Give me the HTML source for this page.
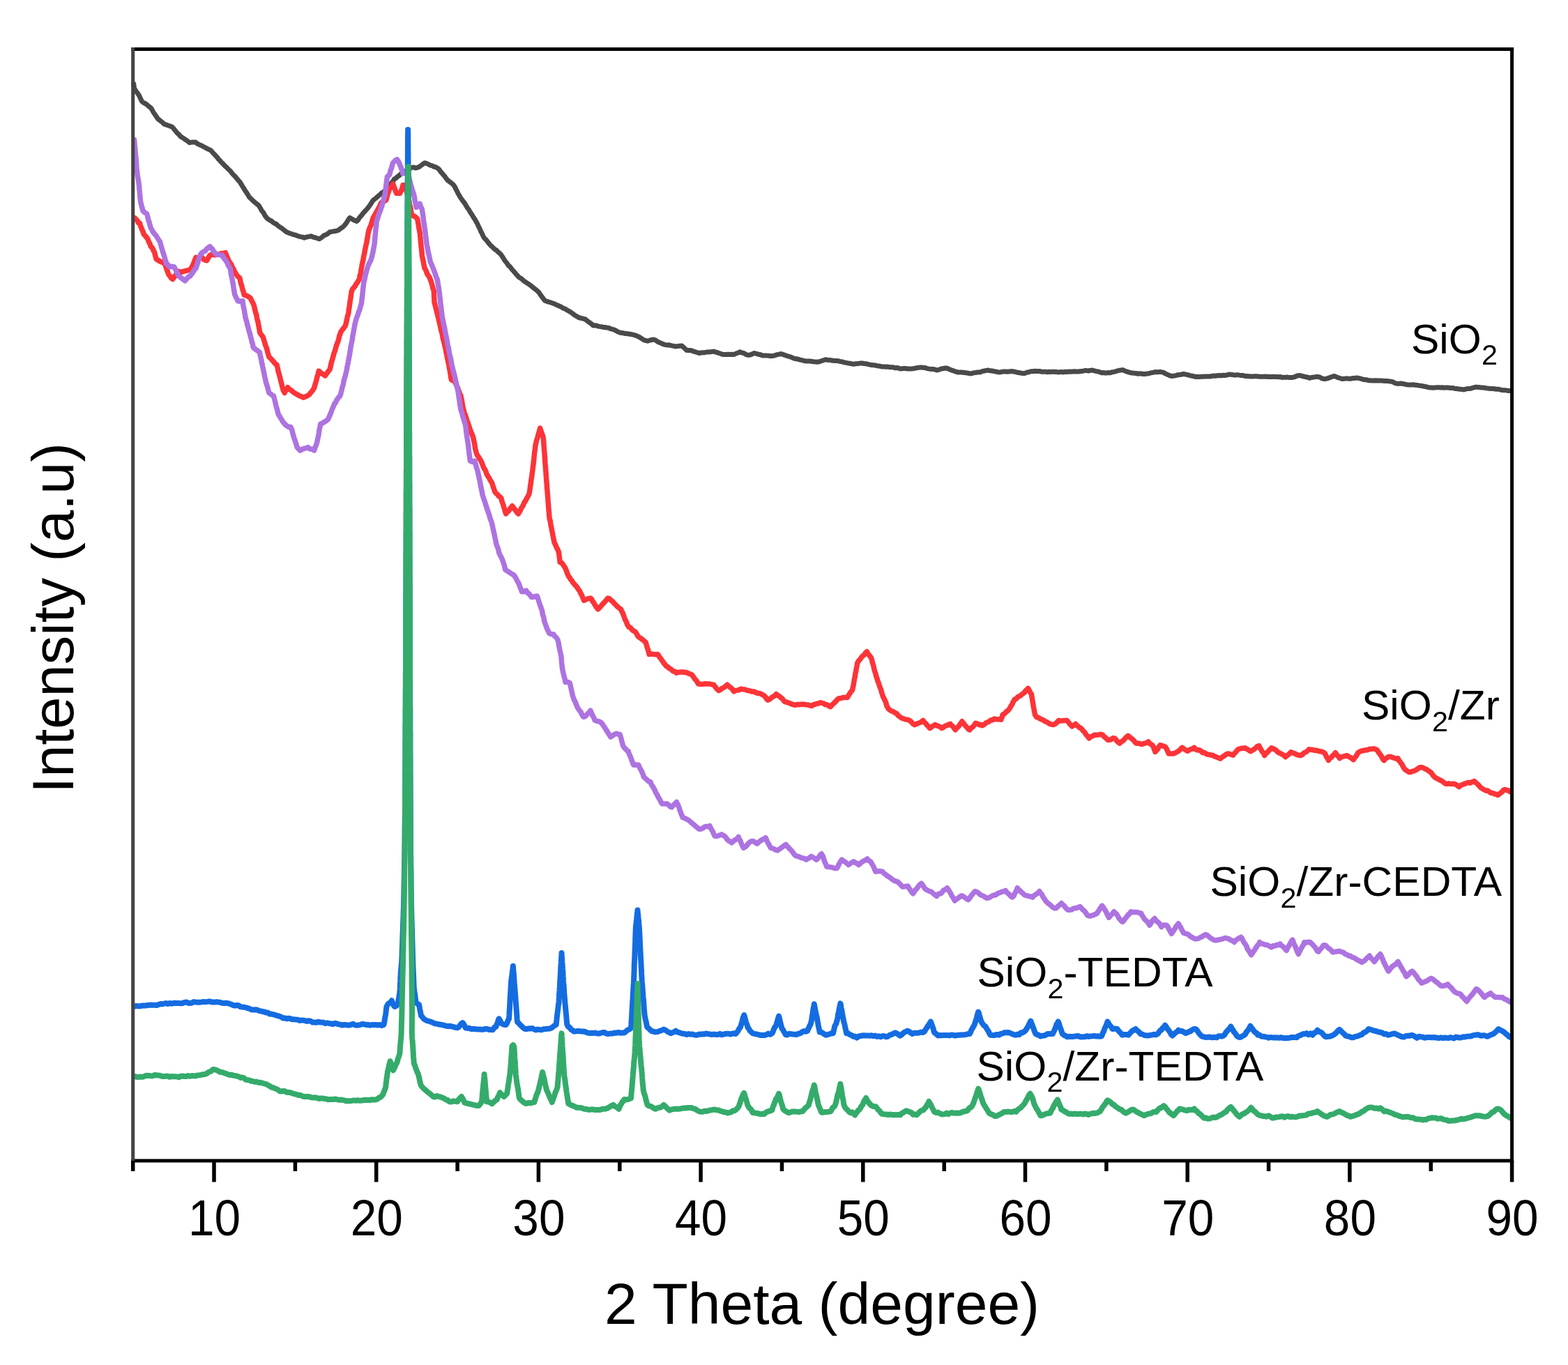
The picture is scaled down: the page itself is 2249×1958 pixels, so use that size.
<!DOCTYPE html>
<html><head><meta charset="utf-8"><title>XRD patterns</title>
<style>
html,body{margin:0;padding:0;background:#fff;}
svg{display:block;}
#fig{width:2249px;height:1958px;overflow:hidden;}
text{font-family:"Liberation Sans",Arial,sans-serif;fill:#000;}
</style></head><body>
<div id="fig"><svg width="2249" height="1958" viewBox="0 0 2249 1958">
<rect x="0" y="0" width="2249" height="1958" fill="#fff"/>
<g fill="none" stroke-linejoin="round" stroke-linecap="round">
<polyline stroke="#4a4a4a" stroke-width="7.0" points="191.7,120.2 192.1,123.2 192.5,126.9 194.0,128.9 195.4,131.3 196.9,133.1 198.4,135.2 199.7,137.4 200.9,140.1 202.2,142.8 203.4,145.3 205.5,147.1 207.6,148.1 209.7,149.3 211.8,151.2 214.3,153.2 216.8,155.3 218.2,157.6 219.6,160.2 221.0,162.5 222.4,164.4 223.8,166.5 225.2,168.7 227.2,171.2 229.2,172.6 231.2,174.2 233.2,175.7 235.2,177.9 238.1,178.8 241.1,180.0 244.0,180.9 246.9,182.1 248.6,183.9 250.3,186.0 252.0,188.0 253.6,190.1 255.3,191.9 257.0,193.3 258.7,195.5 260.9,197.0 263.1,198.2 265.4,199.9 267.6,201.2 269.8,202.9 272.0,204.7 274.8,204.1 277.6,204.1 280.4,203.9 282.7,206.0 285.1,207.0 287.4,208.3 289.8,209.1 292.1,210.6 294.6,211.7 297.1,213.2 299.7,214.4 302.2,215.6 304.1,217.7 305.9,219.8 307.8,221.5 309.6,223.8 311.5,225.6 313.3,228.2 315.2,230.0 317.0,232.2 318.9,234.0 320.9,236.1 322.8,238.2 324.8,239.8 326.8,242.0 328.7,243.8 330.7,245.7 332.4,247.9 334.0,249.8 335.7,251.6 337.4,253.2 339.0,255.3 340.7,257.2 342.3,259.4 344.0,260.8 345.3,263.1 346.7,265.4 348.0,267.6 349.4,269.7 350.7,271.8 352.0,274.0 353.4,276.0 354.7,277.9 356.1,280.2 357.4,282.6 359.3,284.3 361.2,286.3 363.1,288.1 365.1,289.8 367.0,291.4 368.9,293.0 370.8,294.3 372.3,296.8 373.8,299.2 375.2,301.8 376.7,303.7 378.2,305.7 379.7,308.6 381.1,310.7 382.6,312.7 384.8,314.5 387.0,315.9 389.2,316.8 391.5,318.9 393.7,320.4 395.9,321.1 398.1,323.2 400.2,324.8 402.4,326.3 404.5,327.7 406.7,329.4 408.8,331.2 411.0,332.8 413.5,333.9 416.0,334.8 418.5,335.5 421.0,336.6 423.6,337.0 426.1,338.1 428.6,339.1 431.1,339.6 433.6,340.0 436.1,341.2 438.6,340.2 441.1,339.8 443.7,339.4 446.2,338.7 449.1,340.1 452.0,340.7 455.0,341.8 457.9,342.8 460.1,341.5 462.2,340.0 464.4,337.9 466.5,337.0 468.7,336.2 470.8,334.7 473.0,332.8 475.5,332.4 478.0,331.9 480.5,331.5 483.0,331.1 485.1,330.3 487.2,328.8 489.2,327.2 491.3,326.0 493.4,324.1 495.1,322.0 496.7,320.0 498.4,317.2 500.0,314.7 501.7,312.4 504.2,313.8 506.8,315.3 509.3,316.5 511.8,317.4 513.5,315.6 515.1,312.9 516.8,310.8 518.5,309.0 520.2,306.7 521.8,304.8 523.5,303.1 525.2,301.1 526.8,299.4 528.5,297.3 530.2,294.9 531.9,292.3 533.5,289.8 535.2,287.3 537.2,285.7 539.2,284.2 541.3,282.3 543.3,280.5 545.3,278.9 547.3,276.9 549.3,275.8 551.3,274.3 553.3,272.4 555.3,270.5 557.0,268.2 558.7,265.7 560.3,263.7 562.0,261.6 563.7,259.9 565.4,257.1 567.6,255.8 569.9,253.7 572.1,252.1 574.6,249.8 577.1,248.8 579.6,247.1 582.1,245.4 584.9,243.4 587.7,241.9 590.5,240.4 593.3,239.9 596.0,241.0 598.8,240.4 601.3,239.3 603.8,237.5 606.4,235.6 608.9,233.7 611.7,234.4 614.5,235.7 617.3,237.1 619.6,237.6 622.0,239.0 624.3,239.5 626.7,240.6 629.0,242.1 630.7,244.2 632.4,246.7 634.0,248.3 635.7,250.5 637.4,252.2 639.0,254.7 640.7,256.9 642.4,258.8 644.5,260.3 646.5,261.9 648.6,263.5 650.7,265.5 652.0,267.4 653.2,269.7 654.5,272.5 655.8,274.9 657.0,277.6 658.3,279.6 659.5,281.7 660.8,283.9 662.3,285.8 663.7,288.0 665.2,289.8 666.6,291.7 668.1,294.3 669.6,296.8 671.0,299.0 672.5,300.7 673.9,303.6 675.4,305.8 676.8,307.8 678.3,310.3 679.7,312.5 681.2,314.7 682.6,317.4 683.8,319.2 684.9,321.4 686.1,324.1 687.3,326.7 688.5,329.0 689.6,331.8 690.8,334.0 692.0,336.4 693.1,339.0 694.3,340.9 696.0,342.9 697.6,344.4 699.3,346.8 700.9,348.7 702.6,350.9 704.5,352.8 706.4,354.4 708.3,356.3 710.2,358.0 712.0,358.9 713.9,361.0 715.8,362.5 717.7,364.3 719.2,366.1 720.6,368.2 722.1,370.6 723.5,372.9 725.0,375.1 726.5,376.6 727.9,378.7 729.4,381.0 731.1,382.1 732.8,384.3 734.4,386.6 736.1,388.3 737.8,390.3 739.5,392.2 741.1,394.3 742.8,395.9 744.5,397.8 746.6,399.0 748.7,400.4 750.8,402.5 752.9,404.1 754.9,405.3 757.0,406.7 759.1,408.1 761.2,409.5 763.2,411.3 765.1,412.8 767.1,414.4 769.1,415.8 771.0,417.5 773.0,419.5 774.7,422.1 776.4,424.4 778.0,426.7 779.7,428.9 781.4,431.2 784.1,432.1 786.8,433.1 789.4,433.7 792.1,434.7 794.8,435.6 797.0,436.8 799.3,437.7 801.5,438.7 803.8,439.7 806.0,440.8 808.2,442.3 810.5,442.9 812.7,444.6 814.9,445.6 817.2,447.0 819.4,448.4 821.6,450.0 823.8,451.8 826.0,453.1 828.3,454.3 830.5,455.7 833.5,456.3 836.5,457.1 839.5,457.9 841.7,459.9 843.9,461.5 846.2,463.0 848.4,464.6 850.6,466.9 853.1,466.8 855.6,467.0 858.0,468.0 860.5,468.4 863.0,468.7 865.5,469.5 867.9,469.5 870.4,470.0 872.9,470.2 875.5,471.6 878.1,472.2 880.8,473.0 883.4,474.2 886.0,475.8 888.6,476.9 891.1,477.6 893.6,477.6 896.1,478.4 898.7,478.6 901.2,478.9 903.7,479.3 906.2,479.7 908.7,480.3 911.2,480.9 913.7,482.0 916.2,483.1 918.8,484.6 921.3,486.3 923.8,487.9 926.3,488.5 928.8,489.2 931.8,488.2 934.7,487.5 937.7,487.0 940.4,488.0 943.1,490.0 945.7,491.3 948.4,492.3 951.1,493.7 953.6,494.4 956.2,494.9 958.7,494.8 961.3,495.3 963.8,495.9 966.4,496.4 968.9,497.0 971.9,496.6 974.9,496.2 977.9,495.9 980.3,498.1 982.6,500.2 985.0,502.6 988.4,502.4 991.7,502.7 994.6,503.9 997.5,504.8 1000.4,505.8 1003.3,506.5 1005.8,505.9 1008.4,505.7 1011.0,505.7 1013.5,505.0 1016.0,505.1 1018.6,504.7 1021.2,504.5 1023.7,504.1 1026.1,504.8 1028.6,505.6 1031.0,506.6 1033.4,507.1 1035.9,508.2 1038.3,508.5 1041.2,508.5 1044.1,508.3 1047.1,508.6 1050.0,508.3 1052.9,508.5 1055.8,507.0 1058.7,506.1 1061.6,504.7 1063.9,506.0 1066.3,506.3 1068.6,507.5 1071.0,508.9 1073.3,509.4 1076.2,509.0 1079.1,507.7 1082.0,506.5 1084.9,507.3 1087.8,508.2 1090.8,508.8 1093.7,510.0 1096.6,509.9 1099.5,510.1 1102.5,510.2 1105.4,510.7 1108.3,510.6 1111.2,509.9 1114.1,508.8 1117.0,508.4 1119.9,507.6 1122.4,508.2 1124.9,509.1 1127.4,510.0 1129.9,510.8 1132.4,511.5 1134.9,512.4 1137.4,513.5 1140.0,514.5 1142.5,514.7 1145.0,515.2 1147.6,516.1 1150.2,516.7 1152.7,517.3 1155.2,517.9 1157.8,518.1 1160.7,518.0 1163.6,518.2 1166.6,518.7 1169.5,519.1 1172.4,519.3 1175.3,518.8 1178.2,517.8 1181.2,516.8 1184.1,515.8 1186.7,516.2 1189.3,516.4 1191.9,516.8 1194.5,517.3 1197.0,517.4 1199.6,517.5 1202.2,517.7 1204.8,518.5 1207.4,518.7 1209.9,519.6 1212.4,520.1 1214.9,520.6 1217.4,521.1 1219.9,521.4 1222.4,522.0 1224.9,522.2 1227.8,521.8 1230.8,521.5 1233.7,521.1 1236.6,521.0 1239.2,521.5 1241.9,521.8 1244.5,522.3 1247.2,522.9 1249.8,523.6 1252.5,523.7 1255.1,523.9 1257.8,524.7 1260.4,524.9 1263.1,525.5 1265.7,526.0 1268.2,526.0 1270.8,526.3 1273.3,526.1 1275.9,526.7 1278.5,526.8 1281.0,526.8 1283.5,527.7 1286.1,527.5 1288.6,528.0 1291.2,528.9 1293.8,528.7 1296.3,528.4 1298.8,528.5 1301.4,529.0 1304.0,529.0 1306.5,528.9 1309.4,528.7 1312.3,528.3 1315.3,527.6 1318.2,527.3 1321.1,526.9 1323.7,527.2 1326.3,527.4 1328.9,528.3 1331.5,528.9 1334.0,529.3 1336.6,529.5 1339.2,529.5 1341.8,530.4 1344.4,531.0 1347.3,530.1 1350.2,529.0 1353.2,528.5 1356.1,528.0 1358.6,528.3 1361.1,529.4 1363.6,530.4 1366.1,531.4 1368.6,532.3 1371.1,533.1 1373.6,533.9 1376.1,533.9 1378.7,534.1 1381.2,534.3 1383.8,534.6 1386.3,534.9 1388.9,535.3 1391.5,535.9 1394.0,535.6 1396.6,534.7 1399.2,534.5 1401.8,534.0 1404.4,534.1 1406.9,533.5 1409.5,532.4 1412.1,532.0 1414.7,531.4 1417.3,531.0 1420.2,531.8 1423.1,532.0 1426.1,532.6 1429.0,533.2 1431.9,533.9 1434.5,533.7 1437.0,533.4 1439.5,532.9 1442.1,533.1 1444.7,533.3 1447.2,533.1 1449.8,532.6 1452.3,532.7 1455.2,533.2 1458.1,534.0 1461.1,534.5 1464.0,535.0 1466.9,535.6 1469.8,535.4 1472.7,534.3 1475.7,533.7 1478.6,532.7 1481.5,532.7 1484.1,532.3 1486.7,532.4 1489.3,532.5 1491.9,532.6 1494.4,533.3 1497.0,533.2 1499.6,533.2 1502.2,533.8 1504.8,533.3 1507.3,533.6 1509.9,533.1 1512.5,533.5 1515.0,533.3 1517.5,534.0 1520.1,533.6 1522.7,533.6 1525.2,533.9 1527.8,533.2 1530.4,533.4 1533.0,533.1 1535.6,533.2 1538.1,533.0 1540.7,532.8 1543.3,533.1 1545.9,533.1 1548.5,532.7 1551.0,532.6 1553.5,532.1 1556.0,531.6 1558.5,531.6 1561.0,532.0 1563.5,531.4 1566.0,531.0 1568.8,531.6 1571.6,532.3 1574.4,532.9 1577.2,533.6 1580.0,534.8 1582.5,534.5 1585.0,535.0 1587.5,534.9 1590.0,534.6 1592.5,534.7 1595.0,533.7 1597.5,533.4 1600.0,532.9 1602.5,532.0 1605.0,531.3 1607.5,531.0 1610.0,530.6 1612.9,531.8 1615.8,532.9 1618.7,533.8 1621.6,534.7 1624.2,534.9 1626.7,535.2 1629.3,535.4 1631.8,536.2 1634.4,535.8 1637.0,536.0 1639.5,536.5 1642.1,536.5 1645.0,536.0 1647.9,535.7 1650.8,534.9 1653.7,534.3 1656.6,533.6 1659.5,533.7 1662.4,533.5 1665.4,533.6 1668.3,534.1 1670.6,535.5 1673.0,536.6 1675.3,537.6 1677.7,538.7 1680.0,539.4 1682.5,539.3 1685.0,539.0 1687.5,538.3 1689.9,537.8 1692.4,537.6 1694.9,537.0 1697.4,536.5 1699.9,536.8 1702.4,537.5 1704.9,538.0 1707.5,538.9 1710.0,539.3 1712.5,539.7 1715.0,540.6 1717.6,540.2 1720.2,540.6 1722.8,540.3 1725.4,540.2 1727.9,540.0 1730.5,539.9 1733.1,539.9 1735.7,540.0 1738.3,539.4 1740.9,539.0 1743.5,539.2 1746.2,538.8 1748.8,538.5 1751.4,538.8 1754.0,538.3 1756.6,538.4 1759.3,538.1 1761.9,537.3 1764.5,537.1 1767.2,537.5 1769.8,537.9 1772.5,538.0 1775.1,537.6 1777.8,538.1 1780.4,538.5 1783.1,538.6 1785.7,539.5 1788.4,539.5 1791.0,539.7 1793.7,540.0 1796.4,539.9 1799.1,539.8 1801.8,539.8 1804.4,540.0 1807.1,540.2 1809.8,540.2 1812.5,540.2 1815.2,540.0 1817.9,540.4 1820.5,540.2 1823.2,540.5 1825.9,540.3 1828.6,540.6 1831.2,540.4 1833.8,540.7 1836.4,540.5 1839.0,541.4 1841.6,541.3 1844.2,541.2 1846.8,541.1 1849.4,541.6 1852.0,541.4 1854.9,541.2 1857.8,540.3 1860.7,539.0 1863.6,538.5 1866.0,538.9 1868.5,539.8 1870.9,540.3 1873.3,540.7 1875.8,541.2 1878.2,542.3 1881.1,541.4 1884.1,541.1 1887.0,540.6 1889.9,540.4 1892.8,541.0 1895.7,542.6 1898.6,543.5 1901.5,543.5 1904.4,542.6 1907.3,541.6 1910.3,540.5 1913.2,539.4 1916.1,540.4 1919.1,541.7 1922.0,542.5 1924.9,543.5 1927.5,543.3 1930.1,543.1 1932.7,543.0 1935.3,543.2 1937.8,543.2 1940.4,542.5 1943.0,542.4 1945.6,542.1 1948.2,542.3 1950.6,542.9 1953.1,543.6 1955.5,544.3 1957.9,544.8 1960.4,544.8 1962.8,545.8 1965.4,545.8 1968.0,545.9 1970.7,546.1 1973.3,545.8 1975.9,546.0 1978.5,545.9 1981.1,545.9 1983.8,546.2 1986.4,546.4 1989.0,546.4 1991.4,546.8 1993.9,547.1 1996.3,547.4 1998.7,548.3 2001.2,549.6 2003.6,550.2 2006.2,550.4 2008.8,550.0 2011.5,550.3 2014.1,550.9 2016.7,551.5 2019.3,551.9 2021.9,551.9 2024.6,552.0 2027.2,551.8 2029.8,552.2 2032.4,552.4 2035.0,552.9 2037.6,553.2 2040.2,553.8 2042.7,554.2 2045.3,554.7 2047.9,555.5 2050.5,555.9 2053.1,556.0 2055.7,556.3 2058.3,556.1 2060.9,555.7 2063.5,555.8 2066.1,556.0 2068.7,555.8 2071.3,556.2 2073.9,556.0 2076.5,556.0 2079.1,556.4 2081.7,556.6 2084.3,556.6 2086.9,557.6 2089.4,557.5 2092.0,558.1 2094.6,558.2 2097.2,558.6 2099.8,558.9 2102.3,558.2 2104.8,557.6 2107.3,557.4 2109.8,557.3 2112.3,556.3 2114.8,555.7 2117.3,555.1 2119.9,555.6 2122.5,555.6 2125.1,556.1 2127.7,556.1 2130.2,556.5 2132.8,556.9 2135.4,557.3 2138.0,557.5 2140.6,557.5 2143.4,557.7 2146.1,558.2 2148.9,558.2 2151.6,558.9 2154.4,559.5 2157.1,559.8 2159.9,559.8 2162.6,560.4 2165.4,560.4"/>
<polyline stroke="#fc3438" stroke-width="7.5" points="193.4,312.7 195.2,314.8 197.0,316.5 198.8,320.2 200.6,320.2 201.5,324.0 202.5,326.1 203.4,328.6 204.3,330.6 205.3,332.8 206.2,335.8 208.1,338.1 209.9,340.1 211.8,342.5 212.9,345.6 214.1,348.2 215.2,350.0 216.3,353.7 217.8,354.8 219.2,357.1 220.7,360.4 221.5,361.6 222.4,365.1 223.2,368.2 224.1,371.5 226.8,373.4 229.6,374.9 232.9,376.2 236.3,378.2 237.2,380.5 238.2,383.6 239.1,386.5 240.0,388.3 241.0,391.8 241.9,393.8 243.8,396.0 245.6,398.9 247.5,400.5 249.3,398.4 251.1,395.9 252.8,393.1 254.6,391.2 256.4,389.4 259.8,390.4 263.1,389.4 265.9,388.5 268.7,388.0 271.5,387.2 274.3,384.9 275.4,382.7 276.5,380.5 277.6,378.2 278.8,374.9 279.9,371.8 281.0,369.3 284.0,369.8 286.9,369.8 289.9,369.3 292.1,372.1 294.4,373.2 296.6,373.8 298.1,371.0 299.6,368.5 301.1,366.0 303.8,365.1 306.5,365.6 309.1,365.7 311.8,365.0 314.5,364.8 317.5,363.6 320.4,363.6 323.4,362.6 324.5,365.3 325.6,368.8 326.8,370.8 327.9,373.8 329.2,375.8 330.6,377.8 331.9,379.7 333.3,383.7 334.6,384.9 336.1,389.3 337.5,391.2 339.0,393.8 341.2,396.7 343.5,398.3 344.2,400.1 344.8,403.6 345.5,406.4 346.2,408.3 346.9,410.5 347.5,413.1 348.2,415.8 348.9,417.9 349.5,420.0 350.2,422.9 353.2,424.0 356.1,425.4 359.1,427.3 360.2,429.8 361.4,432.0 362.5,434.3 363.6,436.3 364.2,438.0 364.8,440.6 365.4,443.1 366.0,445.5 366.6,448.1 367.3,450.6 367.9,452.3 368.5,455.7 369.1,458.6 369.7,460.6 370.3,463.0 370.7,466.0 371.2,468.0 371.6,470.2 372.1,473.2 372.5,476.4 374.0,479.2 375.5,481.1 377.0,483.1 377.7,484.8 378.5,487.7 379.2,490.0 380.0,492.2 380.7,495.1 381.4,496.7 382.2,498.6 382.9,501.0 383.7,504.7 384.4,507.3 385.2,509.4 385.9,512.1 388.1,513.9 390.4,516.6 392.6,519.0 394.9,521.8 397.1,523.3 397.7,525.9 398.4,528.6 399.0,532.3 399.6,534.5 400.3,536.4 400.9,539.0 401.6,541.4 402.2,544.2 402.8,546.7 403.5,548.8 404.1,551.3 404.7,554.1 405.4,556.2 406.0,559.0 407.1,561.2 408.2,563.5 409.7,560.4 411.2,558.7 412.7,555.7 414.9,558.6 417.2,559.5 419.4,561.3 421.6,563.3 423.9,564.6 426.1,565.7 429.1,567.5 432.0,568.7 435.0,570.2 438.0,568.9 440.9,567.8 443.9,565.7 445.6,563.2 447.2,561.7 448.9,559.1 450.6,556.8 451.3,553.8 451.9,551.6 452.6,549.7 453.3,547.1 454.0,544.7 454.6,542.0 455.3,539.3 456.0,537.5 456.6,534.4 457.3,532.2 459.6,534.3 461.8,536.0 464.1,537.3 466.3,538.9 468.0,536.6 469.6,534.3 471.3,532.2 473.0,530.0 473.7,527.5 474.3,525.0 475.0,521.6 475.6,518.6 476.3,517.1 477.0,514.6 477.6,512.2 478.3,510.0 478.9,507.1 479.6,505.4 480.4,503.5 481.1,500.8 481.9,498.2 482.6,495.2 483.4,493.6 484.1,491.4 484.9,489.6 485.6,487.1 486.4,483.8 487.1,480.7 487.9,479.3 488.6,476.4 490.3,474.1 492.0,471.9 493.6,469.6 495.3,467.5 495.9,465.2 496.6,462.8 497.2,459.5 497.8,456.8 498.4,453.6 499.1,451.9 499.7,449.6 500.1,446.8 500.4,443.5 500.8,441.9 501.2,439.3 501.6,436.2 501.9,433.6 502.3,430.9 502.7,428.6 503.1,426.3 503.4,423.4 503.8,421.1 504.2,418.4 505.5,414.9 506.9,413.2 508.2,411.7 509.6,410.0 510.9,407.2 512.4,405.7 513.9,402.6 515.4,400.5 515.9,396.9 516.4,394.5 517.0,393.4 517.5,390.4 518.0,387.0 518.5,384.4 519.0,381.0 519.5,378.9 520.0,376.3 520.6,374.2 521.1,371.7 521.6,367.8 522.1,365.8 522.6,363.9 523.1,361.0 523.7,357.9 524.2,355.1 524.7,352.4 525.2,350.9 525.7,348.9 526.1,346.7 526.6,343.3 527.1,341.2 527.6,337.7 528.0,334.8 528.5,332.5 529.3,329.5 530.2,327.1 531.0,325.2 531.9,323.6 532.7,320.9 533.5,317.9 534.4,315.2 535.2,312.4 536.5,310.1 537.9,308.0 539.2,305.1 540.6,303.0 541.9,300.7 543.1,298.4 544.4,296.3 545.6,293.0 546.9,290.6 550.2,289.1 553.6,287.3 554.3,285.2 555.1,282.2 555.8,279.0 556.5,276.9 557.2,275.4 558.0,272.8 558.7,270.5 560.4,269.4 562.0,266.9 563.7,263.8 564.7,266.6 565.7,269.2 566.7,272.1 567.7,274.9 568.7,277.2 571.2,277.3 573.7,277.2 574.8,274.6 575.8,273.0 576.9,269.8 577.9,265.5 581.0,266.0 581.7,269.5 582.4,271.6 583.1,273.3 583.9,276.6 584.6,279.2 585.3,282.1 586.0,285.0 586.5,287.1 587.0,290.2 587.5,293.2 588.0,295.0 588.5,296.8 589.0,299.8 589.5,303.1 590.0,305.5 590.5,307.4 592.6,309.6 594.6,310.3 596.7,311.9 598.8,314.1 599.2,316.7 599.6,319.4 600.1,321.8 600.5,324.5 600.9,327.3 601.4,329.6 601.8,331.5 602.2,334.2 602.5,336.0 602.7,339.1 603.0,341.7 603.2,344.3 603.5,347.5 603.7,349.5 604.0,352.0 604.2,355.0 604.5,357.0 604.7,358.7 605.0,361.6 605.2,365.0 605.5,367.6 606.1,370.1 606.6,372.9 607.2,374.9 607.8,378.9 608.3,380.8 608.9,384.4 610.1,386.1 611.3,388.7 612.5,392.3 613.7,394.4 614.9,396.2 616.1,397.9 617.3,401.1 618.0,403.0 618.7,405.0 619.4,407.6 620.2,410.4 620.9,413.6 621.6,415.2 622.3,417.9 622.4,421.0 622.5,422.4 622.6,426.3 622.8,428.2 622.9,430.6 623.0,433.4 623.6,435.5 624.2,438.2 624.8,440.7 625.4,443.0 626.0,445.2 626.6,447.5 627.2,450.3 627.8,452.5 628.4,454.8 629.0,456.8 629.6,460.2 630.2,462.3 630.8,465.3 631.4,467.3 632.0,470.6 632.6,473.0 633.2,475.5 633.8,477.1 634.4,480.3 635.0,483.6 635.6,486.8 636.2,488.3 636.8,490.7 637.4,493.5 638.0,496.1 638.6,498.1 639.1,500.6 639.6,503.3 640.1,506.4 640.7,509.0 641.2,511.2 641.7,514.2 642.2,515.7 642.7,518.8 643.2,521.0 643.8,523.6 644.3,526.7 644.8,530.0 645.3,531.6 645.7,535.0 646.2,537.4 646.6,540.7 647.1,543.3 647.5,545.0 649.8,545.5 652.0,547.2 653.1,549.1 654.2,551.6 655.3,554.1 656.5,556.2 657.6,559.6 658.7,562.3 659.8,565.7 660.9,567.3 661.4,570.1 661.9,572.5 662.4,574.5 662.9,577.6 663.4,580.6 663.9,583.5 664.4,585.8 664.9,587.4 665.4,589.6 666.2,592.9 667.1,594.6 667.9,596.8 668.8,599.4 669.6,603.1 670.4,604.8 671.3,606.8 672.1,609.7 673.1,612.2 674.0,615.4 675.0,618.0 675.9,620.5 676.9,622.4 677.8,624.8 678.8,627.6 679.3,630.6 679.8,632.9 680.3,634.9 680.8,637.3 681.2,640.6 681.7,643.7 682.2,645.8 682.7,647.5 683.2,649.9 684.5,653.0 685.9,654.5 687.2,656.8 688.6,659.2 689.9,661.1 691.0,663.8 692.1,666.2 693.2,669.5 694.3,671.8 695.5,673.3 696.6,675.7 697.7,679.2 698.8,681.2 700.1,683.6 701.5,685.3 702.8,688.2 704.2,690.5 705.5,692.3 706.4,695.2 707.3,698.1 708.2,700.4 709.1,703.2 710.0,705.7 711.8,707.9 713.6,709.2 715.3,711.7 717.1,712.7 718.9,714.6 719.6,718.1 720.4,720.1 721.1,722.6 721.9,724.2 722.6,727.3 723.4,729.3 724.1,732.2 724.9,734.6 725.6,737.0 727.4,734.5 729.2,733.3 731.0,730.8 732.8,728.1 734.6,725.8 736.4,727.9 738.2,730.4 739.9,732.6 741.7,735.3 743.5,737.0 744.7,734.8 746.0,732.7 747.2,730.2 748.4,727.7 749.7,726.1 750.9,723.4 752.1,720.5 753.4,719.1 754.6,716.9 755.7,714.4 756.9,712.6 758.0,710.5 759.1,707.9 759.5,705.8 759.9,703.0 760.2,701.1 760.6,697.5 761.0,695.5 761.4,692.6 761.7,690.0 762.1,687.1 762.5,685.0 762.9,682.4 763.2,679.4 763.6,676.7 763.9,674.3 764.2,672.0 764.5,669.3 764.8,667.9 765.1,665.1 765.4,661.9 765.7,659.7 765.9,657.0 766.2,654.0 766.5,651.3 766.8,648.1 767.1,646.4 767.4,644.7 767.7,641.7 768.0,638.8 768.7,636.2 769.3,633.0 770.0,630.4 770.7,628.5 771.4,626.0 772.0,623.8 772.7,621.1 773.4,618.8 774.0,616.5 774.7,614.2 775.6,616.9 776.5,619.7 777.4,622.4 778.3,624.7 779.2,627.6 779.4,629.9 779.6,632.0 779.8,634.6 780.0,637.4 780.1,640.3 780.3,642.1 780.5,644.5 780.7,647.1 780.9,649.4 781.1,652.2 781.3,654.9 781.5,657.3 781.6,660.9 781.8,662.9 782.0,665.5 782.2,667.1 782.4,670.4 782.6,673.1 782.8,675.6 783.0,677.0 783.1,679.9 783.3,682.4 783.5,685.4 783.7,687.9 783.9,690.5 784.1,692.8 784.3,695.2 784.5,698.5 784.7,701.4 784.9,702.7 785.1,705.3 785.3,708.4 785.5,710.6 785.7,713.4 785.9,715.8 786.1,719.2 786.3,721.7 786.5,723.8 786.7,726.9 786.9,729.3 787.1,732.3 787.3,734.0 787.5,735.6 787.7,738.8 787.9,741.3 788.1,743.7 788.6,745.6 789.2,746.8 789.7,750.6 790.2,753.8 790.8,756.3 791.3,759.0 791.8,762.0 792.3,764.1 792.9,767.7 793.4,769.6 793.9,772.5 794.5,775.3 795.0,778.0 796.1,780.2 797.2,782.4 798.3,785.5 799.4,787.0 800.5,789.8 801.6,792.5 801.9,796.0 802.2,798.1 802.5,800.2 802.8,803.2 803.1,806.6 805.2,807.0 807.3,809.5 809.4,812.8 810.4,814.0 811.5,816.5 812.5,819.0 813.5,822.1 814.6,824.5 815.6,826.9 817.2,828.5 818.7,831.5 820.3,832.9 821.9,835.9 823.4,837.4 825.0,839.4 826.6,841.0 828.1,842.9 829.7,845.8 831.3,847.2 832.3,849.9 833.4,852.1 834.4,853.5 835.4,856.3 836.5,858.6 837.5,861.3 840.6,859.9 843.8,858.6 846.9,858.1 848.5,859.3 850.0,862.7 851.6,864.4 853.1,867.2 854.7,869.7 856.2,871.8 857.8,873.8 859.6,872.1 861.3,870.3 863.1,868.0 864.8,866.0 866.6,864.2 868.4,862.2 870.1,860.0 871.9,858.1 874.2,858.7 876.6,861.3 878.9,863.0 881.3,865.9 883.6,868.0 886.0,870.6 888.3,872.3 890.6,873.8 891.7,876.9 892.8,878.4 893.9,881.4 895.0,883.9 896.1,887.8 897.2,889.9 898.4,892.0 899.6,895.7 900.8,897.6 902.0,899.6 904.5,900.6 906.9,903.8 909.3,905.2 911.8,906.9 913.4,909.6 915.0,912.5 916.6,914.2 919.0,915.6 921.5,917.4 923.9,919.5 926.3,921.5 927.0,924.5 927.7,926.6 928.4,929.2 929.1,930.6 929.8,933.6 930.5,935.6 931.2,938.5 934.2,938.1 937.2,938.4 940.3,938.9 943.3,938.5 944.8,940.5 946.3,942.9 947.9,944.8 949.4,947.3 950.9,949.1 952.5,951.9 954.0,953.2 955.5,955.5 957.6,956.3 959.7,958.6 961.8,959.5 963.8,961.3 965.9,962.9 968.0,963.2 970.1,965.2 973.3,964.4 976.6,964.0 979.8,964.0 982.2,964.5 984.6,964.6 987.1,965.8 989.5,966.8 991.9,967.6 993.5,969.3 995.2,971.8 996.8,974.3 998.4,975.7 1000.1,978.3 1001.7,981.0 1004.7,981.3 1007.8,981.5 1010.8,980.7 1013.8,981.0 1017.0,980.9 1020.3,981.6 1023.5,982.2 1025.3,984.4 1027.2,986.9 1029.0,988.9 1030.8,990.7 1033.2,989.6 1035.7,987.3 1038.1,986.5 1040.6,984.3 1043.0,982.2 1044.9,983.9 1046.9,985.7 1048.8,986.9 1050.8,989.1 1052.7,991.9 1055.1,990.4 1057.6,990.1 1060.0,989.7 1062.4,988.3 1065.4,988.8 1068.5,989.1 1071.5,990.2 1074.5,990.7 1078.2,991.9 1081.8,991.9 1084.2,993.6 1086.7,994.3 1089.1,994.5 1091.6,995.4 1094.0,996.8 1095.8,997.6 1097.7,999.6 1099.5,1002.5 1101.3,1004.1 1103.7,1003.3 1106.1,1001.0 1108.6,999.5 1111.0,998.2 1113.4,995.6 1115.4,997.3 1117.5,998.5 1119.5,1000.4 1121.5,1001.5 1123.6,1004.3 1125.6,1006.5 1128.0,1007.1 1130.4,1007.9 1132.8,1008.8 1135.3,1009.9 1137.7,1010.7 1140.1,1011.4 1143.1,1010.5 1146.2,1010.8 1149.2,1010.2 1152.3,1010.2 1155.3,1010.8 1158.3,1011.0 1161.4,1011.8 1164.4,1012.6 1166.8,1010.7 1169.3,1010.2 1171.7,1009.3 1174.2,1009.0 1176.6,1007.7 1179.0,1008.5 1181.5,1009.2 1183.9,1010.8 1186.3,1010.8 1188.8,1012.6 1191.2,1013.8 1193.2,1011.6 1195.2,1009.4 1197.2,1007.6 1199.3,1005.5 1201.3,1003.1 1203.3,1001.7 1206.3,1001.4 1209.3,1000.6 1212.4,1000.5 1215.4,1000.4 1216.9,998.0 1218.3,995.5 1219.8,993.3 1221.2,991.5 1222.7,989.5 1223.2,986.6 1223.7,984.8 1224.2,982.4 1224.6,979.2 1225.1,977.0 1225.6,973.0 1226.1,971.7 1226.6,968.3 1227.1,965.2 1227.6,963.6 1228.1,960.2 1228.5,957.6 1229.0,955.5 1229.5,952.0 1230.0,950.6 1231.8,947.5 1233.7,945.8 1235.5,943.0 1237.3,940.9 1239.3,939.4 1241.4,936.6 1243.4,934.8 1244.9,937.5 1246.5,939.5 1248.0,941.5 1249.5,943.3 1250.2,945.7 1250.8,947.7 1251.5,950.9 1252.2,952.6 1252.8,955.2 1253.5,958.1 1254.1,960.7 1254.8,963.3 1255.5,965.1 1256.1,966.9 1256.8,970.1 1257.6,972.3 1258.4,974.7 1259.2,977.8 1260.0,979.0 1260.8,981.8 1261.7,984.6 1262.5,986.8 1263.3,988.5 1264.1,991.4 1264.9,994.6 1265.7,996.5 1266.5,999.2 1267.5,1001.0 1268.6,1003.2 1269.6,1005.5 1270.7,1007.5 1271.7,1012.2 1272.8,1014.1 1273.8,1016.2 1276.2,1018.4 1278.6,1020.0 1281.1,1020.7 1283.5,1022.4 1285.9,1023.5 1288.3,1026.4 1290.8,1028.3 1293.2,1030.0 1295.6,1030.8 1298.6,1031.9 1301.6,1032.3 1304.6,1033.5 1307.0,1035.4 1309.5,1038.3 1311.9,1039.6 1314.3,1038.4 1316.7,1037.5 1319.2,1036.7 1321.6,1035.5 1324.0,1033.5 1325.9,1036.1 1327.9,1037.8 1329.8,1040.4 1331.8,1042.3 1333.7,1044.5 1336.1,1043.0 1338.6,1041.1 1341.0,1039.6 1343.4,1040.5 1345.8,1041.6 1348.3,1042.6 1350.7,1044.5 1353.1,1043.4 1355.6,1041.4 1358.0,1040.7 1360.5,1039.3 1362.9,1038.4 1364.7,1040.6 1366.6,1041.9 1368.4,1044.4 1370.2,1046.9 1371.8,1044.7 1373.4,1043.5 1375.1,1041.7 1376.7,1039.4 1378.3,1037.1 1379.9,1034.8 1381.7,1037.0 1383.5,1039.4 1385.3,1041.8 1387.2,1043.6 1389.0,1045.9 1390.8,1046.9 1392.5,1044.7 1394.2,1043.4 1395.9,1042.2 1397.6,1039.8 1399.3,1037.2 1401.7,1038.1 1404.2,1039.7 1406.6,1039.3 1409.0,1040.8 1411.4,1039.5 1413.9,1037.2 1416.3,1036.0 1418.8,1034.8 1421.2,1033.0 1423.6,1032.8 1426.1,1031.1 1429.3,1031.8 1432.6,1031.8 1435.8,1032.3 1436.6,1029.8 1437.4,1028.1 1438.2,1025.0 1440.1,1024.4 1442.1,1022.3 1444.0,1020.2 1446.0,1019.1 1447.9,1016.5 1449.1,1014.8 1450.3,1012.1 1451.6,1010.8 1452.8,1007.4 1454.0,1005.5 1455.2,1003.2 1457.7,1002.2 1460.1,999.5 1462.5,998.6 1465.0,996.8 1467.4,994.7 1469.2,993.6 1471.0,991.0 1472.8,989.2 1474.6,987.4 1476.2,990.3 1477.9,993.6 1479.5,995.9 1479.9,999.1 1480.4,1001.6 1480.8,1004.7 1481.3,1007.6 1481.7,1009.2 1482.2,1013.1 1482.6,1015.3 1483.1,1017.3 1483.5,1020.8 1484.0,1021.7 1484.4,1025.0 1486.8,1028.7 1489.2,1029.1 1491.6,1030.9 1494.1,1032.0 1496.5,1032.9 1498.9,1034.8 1501.3,1035.6 1503.8,1037.2 1506.2,1038.6 1508.7,1039.2 1511.1,1039.6 1513.5,1038.2 1516.0,1036.3 1518.4,1033.5 1521.4,1034.0 1524.5,1033.8 1527.5,1033.4 1530.5,1033.5 1532.3,1035.8 1534.2,1038.3 1536.0,1040.1 1537.8,1042.0 1540.2,1040.4 1542.7,1038.4 1544.6,1040.5 1546.6,1042.1 1548.5,1043.9 1550.5,1044.6 1552.4,1046.9 1554.0,1048.9 1555.6,1050.2 1557.2,1053.0 1558.9,1055.0 1560.5,1056.8 1562.1,1059.0 1564.5,1056.8 1567.0,1056.0 1569.4,1054.2 1572.4,1054.2 1575.5,1054.0 1578.5,1053.3 1581.5,1054.2 1583.3,1056.4 1585.2,1057.8 1587.0,1059.3 1588.8,1061.5 1591.2,1061.3 1593.7,1060.8 1596.1,1058.8 1598.6,1059.0 1600.4,1060.4 1602.2,1063.3 1604.0,1064.7 1605.8,1066.3 1607.8,1064.3 1609.9,1063.1 1611.9,1061.5 1613.9,1059.0 1616.0,1056.9 1618.0,1055.4 1620.0,1056.9 1622.0,1058.7 1624.0,1060.1 1626.1,1062.0 1628.1,1064.6 1630.1,1066.3 1633.8,1066.3 1637.4,1067.6 1639.8,1066.9 1642.2,1066.2 1644.7,1065.5 1647.1,1063.9 1648.9,1066.5 1650.8,1067.6 1652.6,1068.7 1654.4,1071.2 1655.2,1073.9 1656.1,1076.2 1656.9,1078.5 1658.7,1076.4 1660.6,1074.4 1662.4,1071.0 1664.2,1068.8 1666.6,1069.5 1669.1,1070.4 1671.5,1071.2 1672.7,1073.2 1673.9,1075.5 1675.1,1078.2 1676.3,1080.9 1679.9,1081.0 1683.6,1080.9 1686.0,1079.9 1688.4,1078.4 1690.9,1077.0 1693.3,1074.5 1695.7,1072.4 1698.1,1074.4 1700.6,1075.9 1703.0,1077.3 1705.4,1076.1 1707.8,1074.6 1710.3,1074.2 1712.7,1072.4 1715.1,1074.9 1717.6,1075.9 1720.0,1075.8 1722.5,1077.2 1724.9,1079.7 1727.3,1079.4 1729.8,1081.3 1732.2,1082.3 1734.6,1082.4 1737.1,1083.3 1739.5,1083.3 1742.2,1085.0 1745.0,1086.0 1747.7,1087.1 1750.4,1088.2 1752.6,1086.4 1754.8,1084.7 1756.9,1083.5 1759.1,1081.7 1761.3,1080.9 1763.7,1081.6 1766.2,1082.4 1768.6,1083.3 1770.4,1080.7 1772.3,1079.0 1774.2,1076.6 1776.0,1074.8 1778.5,1074.0 1781.0,1073.2 1783.4,1073.4 1785.9,1072.8 1788.6,1074.6 1791.2,1076.1 1793.9,1077.8 1796.3,1076.1 1798.7,1074.9 1801.1,1072.9 1803.5,1070.5 1805.9,1069.8 1807.2,1072.6 1808.5,1074.7 1809.8,1077.3 1811.2,1079.0 1812.5,1080.6 1813.8,1083.7 1815.8,1080.6 1817.8,1079.2 1819.8,1076.9 1821.8,1074.8 1823.8,1072.8 1826.5,1074.2 1829.1,1075.3 1831.8,1077.8 1834.2,1079.8 1836.6,1080.7 1838.9,1082.0 1841.3,1083.3 1843.7,1085.7 1845.7,1083.8 1847.7,1082.8 1849.7,1080.9 1851.7,1078.8 1854.5,1080.2 1857.3,1080.9 1860.0,1082.5 1862.8,1083.2 1865.6,1083.7 1868.0,1082.4 1870.4,1079.9 1872.8,1078.9 1875.2,1077.2 1877.6,1074.8 1880.2,1075.4 1882.9,1075.6 1885.5,1076.4 1888.2,1076.3 1890.8,1077.1 1893.5,1077.8 1896.5,1078.4 1899.5,1079.8 1901.0,1081.8 1902.5,1085.5 1904.0,1087.6 1905.5,1090.7 1907.5,1087.5 1909.5,1086.6 1911.4,1084.0 1913.4,1082.5 1915.4,1079.8 1917.4,1082.7 1919.4,1084.8 1921.4,1087.7 1923.9,1085.8 1926.4,1085.2 1928.9,1084.6 1931.4,1083.7 1933.9,1084.9 1936.3,1086.4 1938.8,1087.7 1941.3,1089.7 1942.9,1087.2 1944.5,1085.3 1946.1,1083.0 1947.7,1080.0 1949.3,1078.8 1952.3,1077.2 1955.2,1076.7 1958.2,1076.0 1961.2,1075.8 1964.2,1074.4 1967.2,1074.4 1970.2,1073.9 1973.2,1074.8 1975.2,1075.8 1977.2,1079.0 1979.2,1081.8 1980.7,1083.3 1982.2,1086.4 1983.6,1089.1 1985.1,1090.7 1987.1,1088.4 1989.1,1087.2 1991.1,1085.7 1993.9,1085.3 1996.7,1086.3 1999.5,1087.3 2002.3,1088.2 2005.1,1087.7 2006.5,1091.0 2007.9,1092.1 2009.3,1094.6 2010.8,1096.1 2012.2,1099.0 2013.6,1101.7 2015.0,1103.7 2018.0,1105.7 2021.0,1107.6 2023.7,1107.4 2026.3,1106.1 2029.0,1105.7 2031.5,1104.1 2034.0,1102.5 2036.4,1100.7 2038.9,1100.7 2041.4,1101.4 2043.9,1102.9 2046.4,1103.8 2048.9,1105.7 2050.9,1106.9 2052.9,1108.5 2054.8,1111.4 2056.8,1113.8 2058.8,1115.6 2061.1,1116.7 2063.4,1117.9 2065.7,1119.1 2067.9,1120.1 2070.2,1121.9 2072.5,1123.7 2074.8,1124.6 2077.8,1123.8 2080.8,1124.6 2083.7,1124.2 2086.7,1124.6 2089.7,1126.2 2092.7,1128.6 2095.2,1126.4 2097.7,1125.4 2100.2,1124.4 2102.7,1123.6 2105.7,1122.5 2108.6,1123.2 2111.6,1121.7 2114.6,1120.6 2116.6,1122.5 2118.6,1124.1 2120.6,1126.2 2122.6,1128.3 2124.6,1130.3 2126.6,1131.6 2129.0,1133.0 2131.4,1134.2 2133.7,1134.1 2136.1,1135.8 2138.5,1137.5 2141.0,1137.5 2143.5,1138.8 2146.0,1139.3 2148.5,1140.5 2150.5,1139.0 2152.5,1137.2 2154.4,1135.9 2156.4,1133.2 2158.4,1132.5 2160.7,1133.5 2163.1,1133.8 2165.4,1135.5"/>
<polyline stroke="#ad73e1" stroke-width="7.5" points="192.5,200.5 192.7,202.5 193.0,205.1 193.2,208.2 193.4,210.5 193.7,212.7 193.9,214.9 194.1,218.4 194.4,221.0 194.6,223.4 194.8,225.7 195.1,227.4 195.3,230.9 195.5,233.4 195.8,236.4 196.0,240.0 196.2,242.1 196.5,244.6 196.7,247.4 197.1,250.5 197.5,253.0 197.9,255.8 198.4,258.0 198.8,260.6 199.2,264.2 199.4,265.4 199.7,269.0 199.9,272.2 200.2,274.2 200.4,276.6 200.7,279.0 200.9,282.9 201.2,285.3 201.4,287.2 201.7,289.3 202.4,292.5 203.1,295.5 203.7,297.2 204.4,300.2 205.1,302.5 207.9,305.1 210.7,306.8 211.4,309.6 212.1,312.3 212.8,315.2 213.5,317.3 214.2,319.4 214.9,322.4 215.6,324.7 216.3,326.9 217.8,329.5 219.3,332.6 220.8,334.4 222.2,336.2 223.7,337.6 225.2,340.3 226.7,342.5 228.1,345.0 229.6,347.0 230.3,350.0 231.1,352.7 231.8,355.4 232.6,357.9 233.3,360.3 234.1,363.1 234.8,365.1 235.6,367.3 236.3,369.7 237.1,372.7 237.8,374.6 238.6,378.2 240.8,379.7 243.0,382.7 246.3,382.3 249.7,382.7 251.0,385.3 252.4,387.6 253.7,390.5 255.1,393.4 256.4,396.1 258.6,397.5 260.9,399.4 263.1,401.0 265.4,402.8 267.2,400.4 269.0,398.8 270.7,396.8 272.5,396.2 274.3,393.8 276.0,391.8 277.6,389.2 279.3,386.4 281.0,384.9 281.8,382.0 282.7,379.9 283.5,377.4 284.4,374.2 285.2,371.5 286.0,368.9 286.9,367.0 287.7,364.8 289.9,362.4 292.2,360.8 294.4,360.0 296.6,356.9 298.9,355.2 301.1,353.7 302.9,355.8 304.7,357.3 306.4,360.5 308.2,362.5 310.0,364.8 313.0,365.4 315.9,365.9 318.9,365.9 320.3,369.2 321.7,370.8 323.1,372.8 324.5,374.7 325.9,376.8 327.3,380.6 328.7,382.6 330.1,384.9 330.5,386.6 331.0,389.9 331.4,393.4 331.9,395.0 332.3,397.6 332.8,399.4 333.2,401.3 333.7,404.4 334.1,406.8 334.6,409.2 335.0,412.3 335.5,415.3 335.9,417.7 336.4,421.0 336.8,422.9 338.3,425.9 339.8,428.7 341.3,431.8 344.6,432.2 348.0,431.8 348.5,435.9 349.0,438.9 349.5,441.3 350.0,443.5 350.4,445.1 350.9,448.8 351.4,451.1 351.9,454.9 352.4,456.3 353.1,459.5 353.7,460.7 354.4,464.1 355.0,466.5 355.7,468.7 356.4,471.3 357.0,473.8 357.7,476.5 358.3,478.0 359.0,480.9 359.6,483.9 360.3,485.7 361.0,489.2 361.6,491.4 362.3,492.9 362.9,496.7 363.6,498.8 365.8,500.5 368.1,502.2 370.3,503.7 372.5,505.4 373.0,508.9 373.5,510.9 374.1,512.8 374.6,515.1 375.1,518.0 375.6,520.8 376.2,522.8 376.7,525.8 377.2,527.8 377.7,530.5 378.3,533.2 378.8,535.7 379.3,538.2 379.8,540.7 380.4,542.8 380.9,545.5 381.4,547.9 382.1,550.7 382.9,552.6 383.6,554.8 384.4,558.0 385.1,560.8 385.9,563.5 388.1,565.0 390.4,566.9 392.6,567.9 393.2,570.8 393.8,572.7 394.4,575.5 395.0,577.5 395.6,580.9 396.3,583.5 396.9,585.5 397.5,587.3 398.1,590.1 398.7,592.3 399.3,594.7 400.8,596.6 402.3,599.3 403.8,601.5 405.2,604.2 406.7,606.1 408.2,608.1 411.2,610.7 414.1,612.5 417.1,612.6 417.9,615.0 418.6,616.4 419.4,618.9 420.1,622.6 420.9,625.2 421.6,627.5 422.4,629.9 423.1,631.5 423.9,634.3 424.6,636.2 425.4,639.1 426.1,641.6 428.3,643.7 430.5,646.1 433.3,644.6 436.1,643.5 438.9,642.9 441.7,641.6 444.7,644.1 447.6,644.3 450.6,646.1 451.5,643.7 452.4,640.7 453.3,638.8 454.2,636.3 455.1,632.7 455.6,630.3 456.0,627.9 456.5,626.1 456.9,624.1 457.4,620.8 457.8,617.6 458.2,615.5 458.7,613.7 459.2,611.4 459.6,608.1 461.8,607.4 464.0,606.0 466.3,604.7 468.5,603.1 470.7,601.4 471.7,598.7 472.7,596.7 473.7,594.3 474.7,592.1 475.6,589.3 476.6,586.5 477.6,584.4 478.6,582.2 479.6,579.1 481.1,578.1 482.6,574.6 484.1,572.2 485.6,570.0 487.1,568.9 488.6,565.7 489.2,562.5 489.9,560.8 490.5,557.8 491.1,554.9 491.8,553.1 492.4,550.9 493.1,546.5 493.7,544.0 494.3,542.1 495.0,539.7 495.6,538.0 496.2,534.9 496.9,532.3 497.5,530.0 497.9,526.3 498.4,524.7 498.8,522.4 499.3,520.3 499.7,517.3 500.2,515.8 500.6,512.6 501.0,510.9 501.5,508.9 501.9,505.3 502.4,502.7 502.8,499.8 503.2,496.5 503.7,494.8 504.1,492.4 504.6,490.6 505.0,488.6 505.5,484.7 505.9,482.2 506.3,480.1 506.8,478.0 507.2,475.3 507.7,472.3 508.1,469.8 508.6,467.7 509.0,465.0 509.8,461.9 510.6,459.0 511.4,456.3 512.2,454.0 513.0,452.5 513.8,449.6 514.5,447.5 515.3,445.5 516.1,443.2 516.9,440.3 517.7,437.4 518.5,434.6 518.8,432.0 519.1,429.1 519.4,426.1 519.7,423.8 520.0,421.6 520.3,418.4 520.6,415.3 520.9,412.8 521.2,410.2 521.5,408.0 521.8,405.0 522.4,402.7 523.1,400.0 523.7,396.6 524.3,394.1 525.0,391.6 525.6,389.0 526.3,386.9 526.9,384.4 527.9,381.9 528.8,379.2 529.8,377.2 530.7,375.3 531.7,373.8 532.6,370.7 533.6,367.6 534.1,364.9 534.7,362.5 535.2,360.3 535.8,356.7 536.4,354.1 536.9,350.9 537.2,348.4 537.4,346.2 537.7,343.0 537.9,340.3 538.2,337.7 538.4,335.2 538.7,332.1 538.9,329.8 539.2,327.0 539.4,325.7 539.7,323.5 539.9,320.1 540.2,317.4 541.0,314.7 541.9,312.4 542.7,309.6 543.5,306.9 544.4,304.9 545.2,302.9 546.1,300.3 546.9,297.3 547.8,295.5 548.6,292.2 549.5,289.1 550.3,286.0 551.1,283.1 552.0,280.6 552.3,277.3 552.7,275.6 553.0,273.2 553.3,270.1 553.6,267.3 554.0,264.1 554.3,261.9 554.6,259.1 555.0,256.3 555.3,253.8 558.7,250.5 559.4,247.9 560.1,244.8 560.8,242.6 561.6,241.3 562.3,238.2 563.0,235.5 563.7,233.7 565.6,231.6 567.6,229.6 569.5,228.7 570.9,230.6 572.3,233.2 573.7,237.1 574.8,239.0 575.8,242.4 576.9,244.4 577.9,248.8 580.4,247.9 583.0,248.5 585.5,250.5 586.2,252.4 586.8,255.0 587.5,258.2 588.1,260.6 588.8,263.8 589.5,266.4 590.2,267.8 590.9,271.5 591.7,273.0 592.4,275.4 593.1,277.4 593.8,280.6 594.4,282.8 594.9,286.6 595.5,289.5 596.1,291.7 596.6,294.7 597.2,297.3 599.7,295.7 602.2,292.3 603.3,295.8 604.4,298.1 605.5,300.7 605.8,303.5 606.2,306.0 606.5,307.5 606.9,310.1 607.2,312.9 607.5,316.5 607.9,319.0 608.2,321.2 608.6,322.7 608.9,325.8 609.2,327.8 609.6,329.8 609.9,332.8 610.2,335.3 610.5,338.4 610.9,340.9 611.2,343.4 611.5,346.0 611.9,348.9 612.2,350.9 612.7,353.5 613.2,355.7 613.7,358.4 614.2,362.4 614.8,363.9 615.3,365.8 615.8,368.5 616.3,370.2 616.8,373.4 617.3,376.0 618.3,377.7 619.3,380.2 620.3,382.6 621.3,384.7 622.3,387.7 623.3,390.3 624.3,393.0 625.3,396.2 626.3,398.9 627.3,401.1 627.7,403.7 628.1,406.6 628.5,409.2 629.0,411.6 629.4,414.1 629.8,417.1 630.2,419.0 630.5,421.7 630.8,424.9 631.1,427.4 631.4,430.1 631.7,433.0 632.0,436.6 632.3,437.9 632.6,439.7 632.9,443.2 633.2,445.5 633.5,448.2 633.8,450.1 634.1,453.5 634.6,456.2 635.1,458.9 635.6,460.6 636.2,464.0 636.7,466.4 637.2,468.7 637.7,470.5 638.2,474.5 638.7,476.4 639.3,479.5 639.8,481.6 640.3,483.8 640.8,487.0 641.3,489.7 641.8,492.5 642.3,495.2 642.9,497.3 643.4,500.1 643.9,502.8 644.4,505.9 644.9,507.9 645.4,510.5 646.0,513.2 646.5,514.4 647.0,517.5 647.5,520.4 648.1,523.5 648.7,526.1 649.3,528.5 649.9,531.1 650.5,534.0 651.1,535.2 651.7,537.6 652.2,539.9 652.8,542.1 653.4,545.7 654.0,547.8 654.6,550.6 655.2,553.5 655.8,556.5 656.4,558.4 656.8,560.6 657.2,562.7 657.6,564.9 658.0,568.4 658.4,570.8 658.9,574.1 659.3,577.3 659.7,580.6 660.1,582.2 660.5,584.8 660.9,587.4 661.6,589.9 662.4,591.3 663.1,594.7 663.9,597.9 664.6,599.4 665.4,602.4 666.1,605.0 666.9,607.4 667.6,609.7 667.9,611.8 668.3,614.1 668.6,618.2 669.0,621.0 669.3,623.1 669.7,626.0 670.0,627.6 670.4,630.6 670.7,632.8 671.1,634.1 671.4,636.9 671.8,640.4 672.1,643.2 672.4,646.0 672.7,648.7 673.0,651.1 673.4,653.7 673.7,655.3 674.0,658.1 674.3,661.1 677.6,662.4 681.0,661.1 681.7,664.4 682.5,666.4 683.2,670.0 683.9,672.0 684.7,674.2 685.4,676.7 685.9,679.4 686.4,682.0 686.9,683.9 687.5,686.7 688.0,689.2 688.5,691.1 689.0,694.3 689.5,697.1 690.0,699.5 690.6,702.0 691.1,705.3 691.6,706.3 692.1,710.2 692.9,712.3 693.7,715.0 694.6,717.4 695.4,719.7 696.2,722.1 697.0,725.1 697.8,726.9 698.6,730.4 699.5,731.8 700.3,734.7 701.1,737.0 702.0,739.6 702.9,743.1 703.7,745.8 704.6,747.2 705.5,750.4 706.0,752.9 706.6,755.1 707.1,758.1 707.7,760.7 708.2,762.9 708.8,765.2 709.3,768.2 709.9,770.9 710.4,773.5 711.0,775.6 711.5,779.0 712.3,781.5 713.1,783.9 714.0,785.8 714.8,788.3 715.6,792.5 716.6,795.0 717.7,797.1 718.8,799.0 719.8,801.2 720.9,803.7 721.9,806.6 722.7,809.0 723.5,811.8 724.2,815.0 725.0,817.5 728.1,819.3 731.3,821.4 734.4,823.5 737.5,825.3 738.8,827.6 740.0,829.5 741.3,832.1 742.5,834.5 743.8,836.3 744.7,838.6 745.6,841.5 746.6,843.7 747.5,845.6 748.4,848.8 751.5,848.7 754.7,847.2 756.7,850.6 758.6,851.5 760.5,854.2 762.5,856.6 765.1,856.2 767.7,855.4 770.3,855.0 771.2,857.2 772.1,860.3 773.0,863.2 773.9,865.6 774.8,868.7 775.7,870.5 776.6,873.8 777.3,874.9 777.9,878.8 778.6,882.4 779.3,883.9 780.0,886.3 780.6,890.5 781.3,892.5 782.3,895.4 783.4,898.4 784.4,901.3 785.4,903.4 786.5,905.3 787.5,908.1 790.6,909.6 793.8,909.7 795.3,912.3 796.9,913.5 798.5,915.2 800.0,918.0 800.6,920.4 801.2,922.5 801.8,926.9 802.4,929.6 802.9,932.5 803.5,934.8 804.1,937.6 804.7,940.0 804.9,941.6 805.2,944.3 805.4,947.5 805.6,949.5 805.8,951.9 806.1,954.3 806.3,958.0 806.9,960.4 807.4,963.5 808.0,965.7 808.6,968.5 809.2,970.7 809.8,972.5 810.3,974.9 810.9,978.4 814.0,978.2 817.2,979.5 817.8,981.8 818.4,984.3 819.0,987.4 819.5,989.3 820.1,992.2 820.7,994.6 821.3,997.7 821.9,999.5 822.9,1002.4 824.0,1005.1 825.0,1006.2 826.0,1009.3 827.1,1011.8 828.1,1014.4 829.7,1017.0 831.2,1019.3 832.8,1020.9 834.4,1024.4 835.9,1027.3 837.5,1028.4 839.4,1027.4 841.3,1025.8 843.1,1023.4 845.0,1022.2 846.9,1019.1 847.9,1021.6 849.0,1024.4 850.0,1026.6 851.0,1027.9 852.1,1030.4 853.1,1033.1 856.1,1034.4 859.0,1034.9 862.0,1036.4 863.8,1038.3 865.5,1041.0 867.3,1043.7 868.7,1045.6 870.1,1048.0 871.5,1050.3 873.0,1052.7 874.4,1054.6 875.8,1057.1 878.6,1055.3 881.5,1053.2 884.3,1052.2 886.8,1053.2 889.2,1053.5 889.9,1055.9 890.6,1058.5 891.3,1060.7 891.9,1063.5 892.6,1065.5 893.3,1069.0 894.0,1070.5 895.8,1073.0 897.6,1074.5 899.5,1076.8 901.3,1077.7 902.2,1081.1 903.1,1083.1 904.0,1084.8 905.0,1087.4 905.9,1090.1 906.8,1092.1 907.7,1094.9 908.6,1097.2 912.2,1097.1 915.9,1097.2 916.9,1100.0 918.0,1102.2 919.0,1104.0 920.1,1105.6 921.1,1108.3 922.2,1110.4 923.2,1114.2 925.6,1116.4 928.0,1118.7 930.5,1120.8 932.9,1121.5 934.1,1124.7 935.3,1127.1 936.5,1128.4 937.8,1130.9 939.0,1132.8 940.2,1136.1 941.6,1138.5 943.0,1140.9 944.4,1144.1 945.7,1145.7 947.1,1148.4 948.5,1151.3 949.9,1153.1 953.5,1153.1 957.2,1153.1 959.2,1154.8 961.3,1157.0 963.3,1157.9 965.1,1155.6 966.9,1154.0 968.7,1152.2 970.5,1150.6 971.4,1152.8 972.4,1154.2 973.3,1157.0 974.3,1158.8 975.2,1162.7 976.2,1165.0 977.1,1167.5 978.1,1169.6 979.0,1172.5 981.5,1173.5 983.9,1174.4 986.3,1175.9 988.8,1177.4 990.9,1179.4 992.9,1181.0 995.0,1182.8 997.1,1184.6 999.2,1186.5 1001.2,1188.0 1003.3,1189.5 1005.7,1188.9 1008.2,1187.9 1010.6,1186.1 1013.0,1185.4 1015.5,1185.7 1017.9,1184.6 1019.1,1187.2 1020.3,1189.5 1021.5,1191.3 1022.8,1193.7 1024.0,1197.0 1025.2,1199.2 1028.4,1199.5 1031.7,1198.3 1034.9,1196.8 1037.0,1198.3 1039.1,1199.2 1041.2,1201.3 1043.2,1204.3 1045.3,1206.1 1047.4,1207.1 1049.5,1208.9 1051.4,1207.1 1053.4,1205.4 1055.3,1204.4 1057.3,1203.1 1059.2,1200.4 1060.4,1204.1 1061.6,1205.3 1062.8,1208.7 1064.1,1212.0 1065.3,1213.8 1066.5,1216.2 1068.5,1215.0 1070.6,1213.4 1072.6,1210.8 1074.6,1208.6 1076.7,1207.2 1078.7,1206.5 1081.1,1206.9 1083.6,1208.8 1086.0,1210.2 1088.4,1207.9 1090.8,1206.0 1093.3,1204.4 1095.7,1203.7 1098.1,1201.7 1099.3,1204.1 1100.5,1207.1 1101.8,1209.7 1103.0,1211.5 1104.2,1214.0 1105.4,1216.2 1107.8,1216.8 1110.2,1217.9 1112.7,1219.2 1115.1,1219.9 1117.5,1218.2 1119.9,1216.5 1122.4,1214.8 1124.8,1212.8 1127.2,1211.4 1128.9,1214.0 1130.7,1215.1 1132.4,1217.4 1134.2,1219.0 1135.9,1221.1 1137.7,1223.4 1139.4,1225.9 1141.8,1227.9 1144.3,1228.4 1146.7,1229.1 1149.1,1230.3 1151.5,1231.0 1154.0,1231.5 1156.4,1233.2 1158.8,1231.6 1161.3,1230.3 1163.7,1228.4 1166.1,1229.9 1168.6,1231.4 1171.0,1233.2 1172.8,1231.6 1174.7,1229.0 1176.5,1226.3 1178.3,1224.7 1179.3,1226.7 1180.4,1228.1 1181.4,1232.1 1182.5,1235.1 1183.5,1238.0 1184.6,1239.6 1185.6,1243.0 1188.5,1243.5 1191.4,1243.9 1194.3,1244.4 1197.2,1245.6 1200.1,1245.4 1201.6,1243.7 1203.0,1240.1 1204.5,1237.6 1205.9,1235.4 1207.4,1233.2 1209.8,1234.8 1212.2,1236.4 1214.7,1238.5 1217.1,1240.5 1219.5,1238.8 1222.0,1237.0 1224.4,1235.7 1226.8,1237.6 1229.3,1238.5 1231.7,1240.5 1234.1,1238.4 1236.6,1236.2 1239.0,1234.9 1241.5,1233.8 1243.9,1232.0 1246.3,1234.7 1248.7,1235.7 1249.9,1238.1 1251.1,1239.7 1252.3,1242.0 1253.6,1244.6 1254.8,1247.8 1256.0,1250.2 1259.2,1249.6 1262.5,1249.8 1265.7,1250.2 1267.7,1252.6 1269.8,1254.0 1271.8,1255.7 1273.8,1257.3 1275.9,1258.2 1277.9,1260.0 1280.3,1261.7 1282.8,1263.5 1285.2,1264.1 1287.6,1264.8 1289.4,1266.8 1291.2,1268.3 1293.1,1270.6 1294.9,1272.1 1298.6,1271.5 1302.2,1270.9 1303.7,1273.9 1305.1,1275.7 1306.6,1277.9 1308.0,1280.2 1309.5,1281.8 1311.2,1279.5 1313.0,1276.5 1314.7,1275.1 1316.4,1272.8 1318.1,1270.2 1319.9,1268.5 1321.6,1267.2 1323.2,1269.6 1324.9,1271.8 1326.5,1274.5 1328.6,1276.2 1330.8,1277.1 1332.9,1278.4 1335.0,1278.8 1337.1,1280.3 1339.2,1282.2 1341.4,1283.8 1343.5,1285.5 1345.4,1282.9 1347.4,1281.8 1349.3,1281.7 1351.3,1279.9 1353.2,1277.0 1355.8,1276.1 1358.5,1273.7 1359.9,1275.7 1361.2,1277.4 1362.6,1280.1 1364.0,1282.1 1365.3,1285.2 1366.7,1287.0 1368.0,1289.5 1369.4,1292.0 1371.9,1289.9 1374.3,1288.2 1376.8,1286.2 1379.2,1284.7 1381.6,1285.8 1384.1,1287.5 1386.5,1289.4 1388.9,1290.7 1390.5,1288.8 1392.1,1286.2 1393.8,1283.9 1395.4,1282.0 1397.0,1279.9 1398.6,1278.6 1401.0,1279.4 1403.5,1281.0 1405.9,1283.4 1408.3,1284.4 1410.7,1285.4 1413.2,1287.1 1415.6,1288.3 1418.0,1287.8 1420.5,1286.6 1422.9,1285.0 1425.3,1284.2 1427.8,1283.7 1430.2,1282.2 1432.6,1280.8 1435.0,1280.1 1437.5,1279.0 1439.9,1278.7 1442.3,1277.4 1444.2,1280.3 1446.2,1281.7 1448.1,1283.5 1450.1,1285.9 1452.0,1287.1 1453.2,1286.0 1454.4,1284.4 1455.7,1281.2 1456.9,1279.7 1458.1,1276.8 1459.3,1273.7 1461.2,1276.4 1463.2,1277.7 1465.1,1280.0 1467.1,1281.4 1469.0,1283.4 1471.4,1284.5 1473.9,1284.9 1476.3,1285.7 1478.8,1285.9 1481.2,1287.1 1483.1,1284.6 1485.1,1283.4 1487.0,1282.1 1489.0,1280.7 1490.9,1278.6 1492.3,1280.9 1493.7,1282.2 1495.1,1284.5 1496.4,1287.6 1497.8,1289.0 1499.2,1291.3 1500.6,1293.2 1502.6,1295.2 1504.7,1296.7 1506.7,1298.4 1508.7,1300.4 1510.8,1301.8 1512.8,1302.9 1515.2,1302.6 1517.7,1299.7 1520.1,1298.0 1522.5,1295.6 1524.4,1297.9 1526.4,1299.1 1528.3,1302.0 1530.3,1304.1 1532.2,1305.3 1534.6,1305.3 1537.1,1304.9 1539.5,1303.1 1541.9,1302.7 1544.3,1302.5 1546.8,1301.4 1549.2,1300.5 1550.9,1302.3 1552.7,1304.7 1554.4,1305.8 1556.2,1307.6 1557.9,1310.1 1559.7,1312.9 1561.4,1313.8 1563.8,1314.1 1566.2,1313.1 1568.7,1312.6 1571.1,1311.2 1573.5,1310.2 1575.0,1307.5 1576.4,1305.7 1577.9,1303.1 1579.3,1301.0 1580.8,1299.2 1582.2,1301.1 1583.6,1303.6 1585.0,1305.4 1586.3,1307.6 1587.7,1310.9 1589.1,1313.5 1590.5,1316.2 1592.3,1313.9 1594.2,1311.9 1596.0,1310.1 1597.8,1307.7 1599.5,1309.6 1601.3,1310.9 1603.0,1313.6 1604.8,1317.0 1606.5,1318.8 1608.3,1321.0 1610.0,1322.3 1611.7,1320.9 1613.5,1318.1 1615.2,1316.1 1616.9,1313.9 1618.6,1311.6 1620.4,1310.6 1622.1,1307.7 1625.0,1308.4 1627.9,1308.6 1630.9,1308.5 1633.8,1309.4 1636.7,1310.2 1638.2,1313.3 1639.7,1315.2 1641.2,1318.1 1642.8,1319.6 1644.3,1321.0 1645.8,1322.4 1647.3,1324.5 1648.8,1327.2 1650.6,1324.8 1652.4,1321.1 1654.3,1319.4 1656.1,1317.5 1657.7,1319.7 1659.3,1321.9 1660.9,1322.7 1662.6,1324.3 1664.2,1326.6 1665.8,1329.6 1668.2,1327.1 1670.7,1327.0 1673.1,1327.2 1674.6,1328.6 1676.0,1331.7 1677.5,1334.2 1678.9,1336.8 1680.4,1339.3 1682.0,1336.7 1683.6,1334.5 1685.2,1332.2 1686.9,1328.8 1688.5,1327.1 1690.1,1324.8 1691.3,1327.2 1692.5,1328.6 1693.8,1330.9 1695.0,1333.7 1696.2,1335.5 1697.4,1338.1 1699.8,1339.1 1702.3,1339.5 1704.7,1340.8 1707.2,1343.1 1709.6,1344.4 1712.0,1345.7 1714.5,1346.9 1716.9,1346.6 1719.3,1346.1 1721.7,1344.5 1724.2,1343.6 1726.6,1341.9 1729.0,1340.5 1731.4,1341.4 1733.9,1343.6 1736.3,1345.5 1738.7,1346.9 1741.2,1348.3 1743.6,1349.0 1746.0,1348.3 1748.5,1348.1 1750.9,1347.4 1753.3,1346.9 1755.8,1345.9 1758.2,1345.4 1760.6,1346.4 1763.0,1347.0 1765.5,1348.8 1767.9,1349.4 1770.3,1351.5 1772.7,1348.4 1775.2,1347.0 1777.6,1345.5 1780.0,1344.2 1781.3,1345.9 1782.7,1349.1 1784.0,1351.6 1785.3,1353.0 1786.6,1355.2 1788.0,1357.5 1789.3,1361.5 1790.6,1362.9 1791.9,1364.8 1793.3,1367.4 1794.6,1369.7 1796.1,1367.7 1797.6,1365.2 1799.2,1363.6 1800.7,1360.2 1802.2,1358.6 1803.8,1355.8 1805.3,1354.5 1806.8,1351.5 1809.2,1353.6 1811.7,1354.0 1814.1,1355.0 1816.5,1355.4 1818.9,1356.1 1821.4,1357.6 1823.8,1358.8 1826.2,1356.6 1828.7,1357.0 1831.1,1355.3 1833.6,1355.7 1836.0,1353.9 1837.9,1356.2 1839.7,1357.5 1841.6,1359.0 1843.4,1361.4 1845.3,1363.4 1846.5,1360.0 1847.7,1358.7 1848.9,1356.3 1850.2,1353.9 1851.4,1351.7 1852.6,1349.7 1853.8,1348.1 1854.9,1350.7 1855.9,1353.6 1857.0,1356.3 1858.0,1357.7 1859.1,1361.3 1860.2,1363.8 1861.2,1366.2 1862.3,1368.5 1863.5,1365.5 1864.7,1363.8 1865.9,1361.2 1867.2,1359.0 1868.4,1356.9 1869.6,1355.2 1870.8,1351.5 1873.6,1352.3 1876.5,1351.2 1879.3,1351.5 1881.0,1353.5 1882.7,1354.8 1884.4,1357.0 1886.1,1358.5 1887.8,1361.4 1889.5,1364.3 1891.2,1365.1 1892.9,1362.7 1894.6,1360.6 1896.3,1358.8 1898.0,1356.1 1899.7,1355.7 1901.7,1356.1 1903.7,1358.4 1905.7,1360.5 1907.6,1361.4 1909.6,1363.6 1911.6,1365.9 1914.4,1365.3 1917.3,1365.1 1920.1,1364.2 1922.5,1364.9 1924.9,1365.6 1927.2,1366.5 1929.6,1368.6 1932.0,1369.3 1934.3,1371.0 1936.5,1371.1 1938.8,1372.7 1941.1,1373.6 1943.3,1374.4 1945.6,1376.1 1948.2,1377.5 1950.7,1378.8 1953.3,1380.4 1955.5,1379.0 1957.7,1377.6 1960.0,1374.9 1962.2,1373.2 1964.4,1371.0 1966.1,1374.0 1967.8,1375.5 1969.5,1377.2 1971.2,1379.5 1972.9,1377.1 1974.6,1375.2 1976.3,1372.2 1978.0,1370.6 1979.7,1368.5 1980.9,1370.6 1982.1,1373.6 1983.3,1376.0 1984.5,1379.8 1985.7,1381.5 1986.8,1384.2 1988.0,1386.2 1989.2,1389.0 1990.4,1391.3 1991.6,1393.1 1993.5,1390.5 1995.5,1387.9 1997.4,1386.0 1999.4,1384.5 2001.3,1383.7 2003.3,1381.4 2005.2,1379.5 2006.5,1382.1 2007.8,1384.1 2009.2,1386.7 2010.5,1388.8 2011.8,1391.0 2013.1,1393.4 2014.5,1395.1 2015.8,1398.4 2017.1,1400.8 2019.2,1398.9 2021.3,1396.6 2023.5,1394.2 2025.6,1393.1 2027.3,1394.8 2029.0,1397.1 2030.7,1399.3 2032.4,1401.3 2034.1,1404.4 2035.8,1406.3 2037.5,1407.9 2039.2,1410.1 2041.5,1409.1 2043.7,1408.2 2046.0,1407.3 2048.3,1405.8 2050.5,1404.4 2052.8,1403.3 2055.0,1404.3 2057.2,1406.1 2059.4,1408.3 2061.5,1409.4 2063.7,1411.4 2065.9,1413.5 2068.1,1414.4 2070.9,1414.1 2073.8,1413.1 2076.6,1411.8 2078.3,1414.4 2080.0,1415.5 2081.7,1417.1 2083.4,1419.4 2085.1,1421.5 2086.8,1422.9 2090.2,1424.8 2093.6,1425.4 2095.3,1426.5 2097.0,1429.3 2098.7,1430.6 2100.4,1432.7 2102.1,1434.2 2103.8,1436.5 2105.5,1434.0 2107.2,1431.4 2108.9,1429.5 2110.6,1427.5 2112.3,1425.8 2114.0,1423.3 2115.7,1420.8 2117.4,1418.6 2119.4,1419.6 2121.4,1421.4 2123.4,1423.5 2125.3,1425.7 2127.3,1428.7 2129.3,1430.5 2131.4,1428.5 2133.6,1427.3 2135.7,1426.0 2137.8,1424.6 2140.1,1427.0 2142.3,1428.5 2144.6,1430.5 2147.2,1430.4 2149.7,1430.5 2152.2,1430.7 2154.8,1430.5 2157.0,1432.7 2159.2,1433.4 2161.5,1434.5 2163.7,1435.9 2165.9,1437.3"/>
<polyline stroke="#146ce1" stroke-width="8.0" points="192.8,1443.7 195.5,1442.9 198.2,1443.3 200.8,1443.3 203.5,1442.6 206.2,1442.5 208.8,1442.4 211.5,1442.1 214.2,1441.8 216.8,1441.6 219.5,1441.7 222.1,1441.8 224.8,1442.0 227.4,1441.0 230.1,1440.1 232.7,1440.3 235.4,1439.7 238.0,1439.0 240.7,1439.9 243.3,1438.9 246.0,1439.7 248.6,1439.1 251.3,1438.8 253.9,1439.1 256.6,1439.1 259.2,1439.3 261.9,1439.0 264.5,1437.9 267.2,1437.4 269.8,1438.7 272.5,1438.9 275.3,1438.6 278.0,1437.1 280.8,1437.6 283.6,1437.7 286.4,1437.8 289.1,1437.4 291.9,1436.9 294.6,1437.3 297.2,1436.9 299.9,1436.4 302.5,1437.0 305.2,1437.5 307.8,1437.6 310.5,1437.1 313.1,1437.6 315.8,1437.7 318.4,1438.7 321.1,1438.9 323.7,1438.7 326.4,1439.0 329.0,1439.7 331.7,1440.7 334.3,1442.0 337.0,1442.5 339.6,1442.0 342.3,1442.3 344.9,1444.1 347.6,1444.5 350.2,1444.7 352.9,1445.3 355.5,1446.2 358.2,1447.0 360.8,1448.3 363.5,1448.4 366.1,1448.3 368.8,1448.4 371.4,1449.9 374.1,1450.4 376.7,1451.0 379.4,1451.5 381.8,1452.6 384.2,1452.6 386.7,1454.4 389.1,1454.6 391.5,1455.1 393.9,1455.7 396.4,1456.6 398.8,1457.2 401.2,1457.8 403.6,1459.0 406.1,1460.4 408.5,1460.3 411.2,1461.4 413.8,1460.7 416.5,1461.0 419.1,1462.3 421.8,1462.3 424.4,1462.6 427.1,1462.7 429.7,1463.9 432.4,1463.6 435.0,1463.6 437.7,1464.1 440.3,1464.9 443.0,1464.2 445.6,1464.6 448.3,1466.6 450.9,1466.4 453.6,1466.7 456.2,1465.7 458.9,1466.4 461.5,1466.5 464.2,1466.8 466.8,1468.0 469.5,1467.3 472.1,1468.0 474.8,1468.2 477.4,1469.1 480.1,1467.8 482.7,1468.2 485.4,1469.2 488.0,1469.6 490.7,1470.5 493.3,1470.0 496.0,1470.0 498.6,1470.6 501.3,1470.6 503.9,1469.6 506.6,1468.8 509.2,1470.4 511.9,1470.8 514.5,1470.5 517.2,1469.8 519.8,1468.9 522.5,1469.2 525.1,1470.0 527.9,1469.7 530.7,1470.7 533.5,1470.1 536.2,1470.0 539.0,1469.9 541.8,1470.5 544.6,1470.0 547.4,1471.1 550.2,1470.0 550.8,1468.7 551.4,1465.0 551.9,1462.1 552.5,1458.2 553.1,1455.5 553.5,1452.1 553.8,1449.3 554.1,1447.0 554.5,1443.9 556.3,1440.6 558.1,1439.0 560.0,1438.2 561.8,1435.2 563.2,1439.1 564.7,1442.3 566.1,1443.9 568.3,1442.8 570.5,1441.0 570.9,1438.5 571.3,1436.0 571.7,1433.5 572.2,1431.0 572.6,1428.5 573.0,1426.0 573.4,1423.5 573.5,1420.9 573.7,1418.2 573.8,1415.6 573.9,1413.0 574.0,1410.3 574.2,1407.7 574.3,1405.0 574.4,1402.4 574.5,1399.8 574.7,1397.1 574.8,1394.5 575.1,1391.6 575.4,1388.7 575.6,1385.8 575.9,1382.9 576.2,1380.0 576.3,1377.5 576.4,1375.0 576.5,1372.5 576.6,1370.0 576.6,1367.5 576.7,1365.0 576.8,1362.5 576.9,1360.0 577.0,1357.5 577.1,1355.0 577.2,1352.5 577.2,1350.0 577.3,1347.5 577.4,1345.0 577.5,1342.5 577.6,1340.0 577.7,1337.5 577.8,1335.0 577.9,1332.5 578.0,1330.0 578.0,1327.5 578.1,1325.0 578.2,1322.5 578.3,1320.0 578.4,1317.5 578.5,1315.0 578.6,1312.5 578.6,1310.0 578.7,1307.5 578.8,1305.0 578.9,1302.5 579.0,1300.0 579.0,1297.5 579.1,1295.0 579.1,1292.5 579.2,1289.9 579.2,1287.4 579.3,1284.9 579.3,1282.4 579.4,1279.9 579.4,1277.4 579.5,1274.8 579.5,1272.3 579.5,1269.8 579.6,1267.3 579.6,1264.8 579.7,1262.3 579.7,1259.8 579.8,1257.2 579.8,1254.7 579.9,1252.2 579.9,1249.7 580.0,1247.2 580.0,1244.7 580.0,1242.2 580.1,1239.6 580.1,1237.1 580.2,1234.6 580.2,1232.1 580.3,1229.6 580.3,1227.1 580.4,1224.5 580.4,1222.0 580.5,1219.5 580.5,1217.0 580.5,1214.5 580.5,1211.9 580.6,1209.4 580.6,1206.8 580.6,1204.3 580.6,1201.7 580.6,1199.2 580.7,1196.7 580.7,1194.1 580.7,1191.6 580.7,1189.0 580.7,1186.5 580.8,1183.9 580.8,1181.4 580.8,1178.8 580.8,1176.3 580.8,1173.8 580.9,1171.2 580.9,1168.7 580.9,1166.1 580.9,1163.6 580.9,1161.0 581.0,1158.5 581.0,1156.0 581.0,1153.4 581.0,1150.9 581.0,1148.3 581.0,1145.8 581.1,1143.2 581.1,1140.7 581.1,1138.2 581.1,1135.6 581.1,1133.1 581.2,1130.5 581.2,1128.0 581.2,1125.4 581.2,1122.9 581.2,1120.3 581.3,1117.8 581.3,1115.3 581.3,1112.7 581.3,1110.2 581.3,1107.6 581.4,1105.1 581.4,1102.5 581.4,1100.0 581.4,1097.5 581.4,1095.0 581.4,1092.5 581.4,1090.0 581.4,1087.5 581.5,1085.0 581.5,1082.5 581.5,1080.0 581.5,1077.5 581.5,1075.0 581.5,1072.5 581.5,1070.0 581.5,1067.5 581.5,1065.0 581.5,1062.5 581.6,1060.0 581.6,1057.5 581.6,1055.0 581.6,1052.5 581.6,1050.0 581.6,1047.5 581.6,1045.0 581.6,1042.5 581.6,1040.0 581.6,1037.5 581.7,1035.0 581.7,1032.5 581.7,1030.0 581.7,1027.5 581.7,1025.0 581.7,1022.5 581.7,1020.0 581.7,1017.5 581.7,1015.0 581.8,1012.5 581.8,1010.0 581.8,1007.5 581.8,1005.0 581.8,1002.5 581.8,1000.0 581.8,997.5 581.8,995.0 581.8,992.5 581.8,990.0 581.9,987.5 581.9,985.0 581.9,982.5 581.9,980.0 581.9,977.5 581.9,975.0 581.9,972.5 581.9,970.0 581.9,967.5 581.9,965.0 582.0,962.5 582.0,960.0 582.0,957.5 582.0,955.0 582.0,952.5 582.0,950.0 582.0,947.5 582.0,945.0 582.0,942.5 582.0,940.0 582.1,937.5 582.1,935.0 582.1,932.5 582.1,930.0 582.1,927.5 582.1,925.0 582.1,922.5 582.1,920.0 582.1,917.5 582.1,915.0 582.1,912.5 582.2,910.0 582.2,907.5 582.2,905.0 582.2,902.5 582.2,900.0 582.2,897.5 582.2,895.0 582.2,892.5 582.2,890.0 582.2,887.5 582.2,885.0 582.2,882.5 582.3,880.0 582.3,877.5 582.3,875.0 582.3,872.5 582.3,870.0 582.3,867.5 582.3,865.0 582.3,862.5 582.3,860.0 582.3,857.5 582.3,855.0 582.3,852.5 582.4,850.0 582.4,847.5 582.4,845.0 582.4,842.5 582.4,840.0 582.4,837.5 582.4,835.0 582.4,832.5 582.4,830.0 582.4,827.5 582.4,825.0 582.4,822.5 582.5,820.0 582.5,817.5 582.5,815.0 582.5,812.5 582.5,810.0 582.5,807.5 582.5,805.0 582.5,802.5 582.5,800.0 582.5,797.5 582.5,795.0 582.5,792.5 582.6,790.0 582.6,787.5 582.6,785.0 582.6,782.5 582.6,780.0 582.6,777.5 582.6,775.0 582.6,772.5 582.6,770.0 582.6,767.5 582.6,765.0 582.7,762.5 582.7,760.0 582.7,757.5 582.7,755.0 582.7,752.5 582.7,750.0 582.7,747.5 582.7,745.0 582.7,742.5 582.7,740.0 582.7,737.5 582.7,735.0 582.8,732.5 582.8,730.0 582.8,727.5 582.8,725.0 582.8,722.5 582.8,720.0 582.8,717.5 582.8,715.0 582.8,712.5 582.8,710.0 582.8,707.5 582.8,705.0 582.9,702.5 582.9,700.0 582.9,697.5 582.9,695.0 582.9,692.5 582.9,690.0 582.9,687.5 582.9,685.0 582.9,682.5 582.9,680.0 582.9,677.5 582.9,675.0 583.0,672.5 583.0,670.0 583.0,667.5 583.0,665.0 583.0,662.5 583.0,660.0 583.0,657.5 583.0,655.0 583.0,652.5 583.0,650.0 583.0,647.5 583.0,645.0 583.1,642.5 583.1,640.0 583.1,637.5 583.1,635.0 583.1,632.5 583.1,630.0 583.1,627.5 583.1,625.0 583.1,622.5 583.1,620.0 583.1,617.5 583.1,615.0 583.2,612.5 583.2,610.0 583.2,607.5 583.2,605.0 583.2,602.5 583.2,600.0 583.2,597.5 583.2,595.0 583.2,592.5 583.2,590.0 583.2,587.5 583.3,585.0 583.3,582.5 583.3,580.0 583.3,577.5 583.3,575.0 583.3,572.5 583.3,570.0 583.3,567.5 583.3,565.0 583.4,562.5 583.4,560.0 583.4,557.5 583.4,555.0 583.4,552.5 583.4,550.0 583.4,547.5 583.4,545.0 583.4,542.5 583.4,540.0 583.5,537.5 583.5,535.0 583.5,532.5 583.5,530.0 583.5,527.5 583.5,525.0 583.5,522.5 583.5,520.0 583.5,517.5 583.5,515.0 583.6,512.5 583.6,510.0 583.6,507.5 583.6,505.0 583.6,502.5 583.6,500.0 583.6,497.5 583.6,495.0 583.6,492.5 583.6,490.0 583.6,487.5 583.7,485.0 583.7,482.5 583.7,480.0 583.7,477.5 583.7,475.0 583.7,472.5 583.7,470.0 583.7,467.5 583.7,465.0 583.8,462.5 583.8,460.0 583.8,457.5 583.8,455.0 583.8,452.5 583.8,450.0 583.8,447.5 583.8,445.0 583.8,442.5 583.8,440.0 583.9,437.5 583.9,435.0 583.9,432.5 583.9,430.0 583.9,427.5 583.9,425.0 583.9,422.5 583.9,420.0 583.9,417.5 583.9,415.0 584.0,412.5 584.0,410.0 584.0,407.5 584.0,405.0 584.0,402.5 584.0,400.0 584.0,397.5 584.0,395.0 584.0,392.5 584.0,390.0 584.0,387.5 584.1,385.0 584.1,382.5 584.1,380.0 584.1,377.5 584.1,375.0 584.1,372.5 584.1,370.0 584.1,367.5 584.1,365.0 584.1,362.5 584.2,360.0 584.2,357.5 584.2,355.0 584.2,352.5 584.2,350.0 584.2,347.5 584.2,345.0 584.2,342.5 584.2,340.0 584.2,337.5 584.3,335.0 584.3,332.5 584.3,330.0 584.3,327.5 584.3,325.0 584.3,322.5 584.3,320.0 584.3,317.5 584.3,315.0 584.4,312.5 584.4,310.0 584.4,307.5 584.4,305.0 584.4,302.5 584.4,300.0 584.4,297.5 584.4,294.9 584.4,292.4 584.5,289.9 584.5,287.3 584.5,284.8 584.5,282.3 584.5,279.7 584.5,277.2 584.6,274.7 584.6,272.1 584.6,269.6 584.6,267.1 584.6,264.5 584.6,262.0 584.6,259.5 584.7,256.9 584.7,254.4 584.7,251.9 584.7,249.3 584.7,246.8 584.7,244.3 584.8,241.7 584.8,239.2 584.8,236.7 584.8,234.1 584.8,231.6 584.8,229.1 584.9,226.5 584.9,224.0 584.9,221.5 584.9,218.9 584.9,216.4 584.9,213.9 584.9,211.3 585.0,208.8 585.0,206.3 585.0,203.7 585.0,201.2 585.0,198.7 585.0,196.1 585.1,193.6 585.1,191.1 585.1,188.5 585.1,186.0 585.1,188.5 585.1,191.1 585.2,193.6 585.2,196.1 585.2,198.7 585.2,201.2 585.2,203.7 585.3,206.3 585.3,208.8 585.3,211.3 585.3,213.9 585.3,216.4 585.4,218.9 585.4,221.5 585.4,224.0 585.4,226.5 585.4,229.1 585.5,231.6 585.5,234.1 585.5,236.7 585.5,239.2 585.5,241.7 585.6,244.3 585.6,246.8 585.6,249.3 585.6,251.9 585.6,254.4 585.7,256.9 585.7,259.5 585.7,262.0 585.7,264.5 585.7,267.1 585.8,269.6 585.8,272.1 585.8,274.7 585.8,277.2 585.8,279.7 585.9,282.3 585.9,284.8 585.9,287.3 585.9,289.9 585.9,292.4 586.0,294.9 586.0,297.5 586.0,300.0 586.0,302.5 586.0,305.0 586.0,307.5 586.0,310.0 586.0,312.5 586.1,315.0 586.1,317.5 586.1,320.0 586.1,322.5 586.1,325.0 586.1,327.5 586.1,330.0 586.1,332.5 586.1,335.0 586.1,337.5 586.2,340.0 586.2,342.5 586.2,345.0 586.2,347.5 586.2,350.0 586.2,352.5 586.2,355.0 586.2,357.5 586.2,360.0 586.2,362.5 586.3,365.0 586.3,367.5 586.3,370.0 586.3,372.5 586.3,375.0 586.3,377.5 586.3,380.0 586.3,382.5 586.3,385.0 586.4,387.5 586.4,390.0 586.4,392.5 586.4,395.0 586.4,397.5 586.4,400.0 586.4,402.5 586.4,405.0 586.4,407.5 586.4,410.0 586.4,412.5 586.4,415.0 586.5,417.5 586.5,420.0 586.5,422.5 586.5,425.0 586.5,427.5 586.5,430.0 586.5,432.5 586.5,435.0 586.5,437.5 586.5,440.0 586.5,442.5 586.5,445.0 586.5,447.5 586.5,450.0 586.6,452.5 586.6,455.0 586.6,457.5 586.6,460.0 586.6,462.5 586.6,465.0 586.6,467.5 586.6,470.0 586.6,472.5 586.6,475.0 586.6,477.5 586.6,480.0 586.6,482.5 586.7,485.0 586.7,487.5 586.7,490.0 586.7,492.5 586.7,495.0 586.7,497.5 586.7,500.0 586.7,502.5 586.7,505.0 586.7,507.5 586.7,510.0 586.7,512.5 586.7,515.0 586.8,517.5 586.8,520.0 586.8,522.5 586.8,525.0 586.8,527.5 586.8,530.0 586.8,532.5 586.8,535.0 586.8,537.5 586.8,540.0 586.8,542.5 586.8,545.0 586.8,547.5 586.9,550.0 586.9,552.5 586.9,555.0 586.9,557.5 586.9,560.0 586.9,562.5 586.9,565.0 586.9,567.5 586.9,570.0 586.9,572.5 586.9,575.0 586.9,577.5 586.9,580.0 586.9,582.5 587.0,585.0 587.0,587.5 587.0,590.0 587.0,592.5 587.0,595.0 587.0,597.5 587.0,600.0 587.0,602.5 587.0,605.0 587.0,607.5 587.0,610.0 587.0,612.5 587.0,615.0 587.0,617.5 587.1,620.0 587.1,622.5 587.1,625.0 587.1,627.5 587.1,630.0 587.1,632.5 587.1,635.0 587.1,637.5 587.1,640.0 587.1,642.5 587.1,645.0 587.1,647.5 587.1,650.0 587.1,652.5 587.2,655.0 587.2,657.5 587.2,660.0 587.2,662.5 587.2,665.0 587.2,667.5 587.2,670.0 587.2,672.5 587.2,675.0 587.2,677.5 587.2,680.0 587.2,682.5 587.2,685.0 587.2,687.5 587.2,690.0 587.3,692.5 587.3,695.0 587.3,697.5 587.3,700.0 587.3,702.5 587.3,705.0 587.3,707.5 587.3,710.0 587.3,712.5 587.3,715.0 587.3,717.5 587.3,720.0 587.3,722.5 587.3,725.0 587.4,727.5 587.4,730.0 587.4,732.5 587.4,735.0 587.4,737.5 587.4,740.0 587.4,742.5 587.4,745.0 587.4,747.5 587.4,750.0 587.4,752.5 587.4,755.0 587.4,757.5 587.4,760.0 587.5,762.5 587.5,765.0 587.5,767.5 587.5,770.0 587.5,772.5 587.5,775.0 587.5,777.5 587.5,780.0 587.5,782.5 587.5,785.0 587.5,787.5 587.5,790.0 587.5,792.5 587.5,795.0 587.5,797.5 587.6,800.0 587.6,802.5 587.6,805.0 587.6,807.5 587.6,810.0 587.6,812.5 587.6,815.0 587.6,817.5 587.6,820.0 587.6,822.5 587.6,825.0 587.6,827.5 587.6,830.0 587.6,832.5 587.7,835.0 587.7,837.5 587.7,840.0 587.7,842.5 587.7,845.0 587.7,847.5 587.7,850.0 587.7,852.5 587.7,855.0 587.7,857.5 587.7,860.0 587.7,862.5 587.7,865.0 587.7,867.5 587.7,870.0 587.8,872.5 587.8,875.0 587.8,877.5 587.8,880.0 587.8,882.5 587.8,885.0 587.8,887.5 587.8,890.0 587.8,892.5 587.8,895.0 587.8,897.5 587.8,900.0 587.8,902.5 587.8,905.0 587.9,907.5 587.9,910.0 587.9,912.5 587.9,915.0 587.9,917.5 587.9,920.0 587.9,922.5 587.9,925.0 587.9,927.5 587.9,930.0 587.9,932.5 587.9,935.0 587.9,937.5 587.9,940.0 587.9,942.5 588.0,945.0 588.0,947.5 588.0,950.0 588.0,952.5 588.0,955.0 588.0,957.5 588.0,960.0 588.0,962.5 588.0,965.0 588.0,967.5 588.0,970.0 588.0,972.5 588.0,975.0 588.0,977.5 588.1,980.0 588.1,982.5 588.1,985.0 588.1,987.5 588.1,990.0 588.1,992.5 588.1,995.0 588.1,997.5 588.1,1000.0 588.1,1002.5 588.1,1005.0 588.1,1007.5 588.1,1010.0 588.1,1012.5 588.2,1015.0 588.2,1017.5 588.2,1020.0 588.2,1022.5 588.2,1025.0 588.2,1027.5 588.2,1030.0 588.2,1032.5 588.2,1035.0 588.2,1037.5 588.2,1040.0 588.2,1042.5 588.2,1045.0 588.2,1047.5 588.3,1050.0 588.3,1052.5 588.3,1055.0 588.3,1057.5 588.3,1060.0 588.3,1062.5 588.3,1065.0 588.3,1067.5 588.3,1070.0 588.3,1072.5 588.3,1075.0 588.3,1077.5 588.3,1080.0 588.4,1082.5 588.4,1085.0 588.4,1087.5 588.4,1090.0 588.4,1092.5 588.4,1095.0 588.4,1097.5 588.4,1100.0 588.4,1102.5 588.4,1105.1 588.4,1107.6 588.5,1110.2 588.5,1112.7 588.5,1115.3 588.5,1117.8 588.5,1120.3 588.5,1122.9 588.5,1125.4 588.5,1128.0 588.6,1130.5 588.6,1133.1 588.6,1135.6 588.6,1138.2 588.6,1140.7 588.6,1143.2 588.6,1145.8 588.6,1148.3 588.7,1150.9 588.7,1153.4 588.7,1156.0 588.7,1158.5 588.7,1161.0 588.7,1163.6 588.7,1166.1 588.8,1168.7 588.8,1171.2 588.8,1173.8 588.8,1176.3 588.8,1178.8 588.8,1181.4 588.8,1183.9 588.8,1186.5 588.9,1189.0 588.9,1191.6 588.9,1194.1 588.9,1196.7 588.9,1199.2 588.9,1201.7 588.9,1204.3 588.9,1206.8 589.0,1209.4 589.0,1211.9 589.0,1214.5 589.0,1217.0 589.0,1219.5 589.1,1222.0 589.1,1224.5 589.1,1227.1 589.2,1229.6 589.2,1232.1 589.2,1234.6 589.2,1237.1 589.3,1239.6 589.3,1242.2 589.3,1244.7 589.4,1247.2 589.4,1249.7 589.4,1252.2 589.5,1254.7 589.5,1257.2 589.5,1259.8 589.5,1262.3 589.6,1264.8 589.6,1267.3 589.6,1269.8 589.7,1272.3 589.7,1274.8 589.7,1277.4 589.8,1279.9 589.8,1282.4 589.8,1284.9 589.8,1287.4 589.9,1289.9 589.9,1292.5 589.9,1295.0 590.0,1297.5 590.0,1300.0 590.1,1302.5 590.1,1305.0 590.2,1307.5 590.3,1310.0 590.3,1312.5 590.4,1315.0 590.5,1317.5 590.5,1320.0 590.6,1322.5 590.7,1325.0 590.8,1327.5 590.8,1330.0 590.9,1332.5 591.0,1335.0 591.0,1337.5 591.1,1340.0 591.2,1342.5 591.2,1345.0 591.3,1347.5 591.4,1350.0 591.4,1352.5 591.5,1355.0 591.6,1357.5 591.7,1360.0 591.7,1362.5 591.8,1365.0 591.9,1367.5 591.9,1370.0 592.0,1372.5 592.1,1375.0 592.1,1377.5 592.2,1380.0 592.3,1382.6 592.4,1385.2 592.5,1387.8 592.6,1390.4 592.7,1393.0 592.8,1395.6 593.0,1398.2 593.1,1400.7 593.2,1403.3 593.3,1405.9 593.4,1408.5 593.5,1411.1 593.6,1413.7 593.7,1416.3 594.1,1419.0 594.4,1421.8 594.8,1424.5 595.2,1427.2 595.5,1429.9 595.9,1432.6 596.2,1435.4 596.6,1438.1 598.8,1439.9 601.0,1441.0 601.5,1443.3 602.0,1447.0 602.5,1449.1 602.9,1451.4 603.4,1453.6 603.9,1456.9 605.8,1458.7 607.8,1461.5 609.7,1462.7 612.6,1464.2 615.5,1465.0 618.4,1465.8 621.3,1467.1 623.9,1468.2 626.5,1468.6 629.1,1469.3 631.7,1469.7 634.3,1470.0 637.0,1470.8 639.8,1471.6 642.5,1472.2 645.2,1471.7 647.9,1472.4 650.6,1473.0 653.4,1473.9 656.1,1474.3 657.9,1473.3 659.8,1470.7 661.6,1468.5 663.4,1467.1 664.8,1468.6 666.3,1471.1 667.7,1474.3 670.2,1474.9 672.7,1474.7 675.2,1475.9 677.6,1475.9 680.1,1476.0 682.6,1476.3 685.1,1476.5 687.8,1476.4 690.5,1476.8 693.3,1476.8 696.0,1475.9 698.7,1476.0 701.5,1476.9 704.2,1476.9 706.9,1477.2 709.1,1473.8 711.3,1472.9 712.4,1469.9 713.5,1467.8 714.5,1463.9 715.6,1461.3 717.1,1463.6 718.5,1466.5 720.0,1468.5 722.9,1469.7 725.8,1470.0 727.2,1467.7 728.7,1463.7 730.1,1461.3 730.2,1459.0 730.4,1456.0 730.5,1453.2 730.7,1450.9 730.8,1448.8 731.0,1446.4 731.1,1443.0 731.3,1440.6 731.4,1437.1 731.5,1435.3 731.7,1432.1 731.8,1429.3 732.0,1427.4 732.1,1424.9 732.3,1421.8 732.4,1419.7 732.6,1417.9 732.7,1414.0 732.9,1411.6 733.0,1409.0 733.3,1406.5 733.6,1404.0 734.0,1401.4 734.3,1399.4 734.6,1396.9 734.9,1394.0 735.3,1391.7 735.6,1388.6 735.9,1385.8 736.1,1389.4 736.3,1391.4 736.5,1393.5 736.7,1396.3 736.9,1398.0 737.1,1400.1 737.3,1402.6 737.4,1406.3 737.6,1409.0 737.8,1410.9 738.0,1413.3 738.2,1415.9 738.4,1418.1 738.6,1420.5 738.8,1423.5 739.0,1425.4 739.2,1427.6 739.4,1430.4 739.6,1434.3 739.8,1437.1 740.0,1439.4 740.2,1442.2 740.4,1444.2 740.6,1447.3 740.8,1449.8 741.0,1452.3 741.2,1455.3 741.4,1457.8 741.6,1461.7 741.8,1463.2 742.0,1465.8 744.2,1467.9 746.4,1470.3 748.6,1472.4 750.8,1474.6 753.3,1476.0 755.8,1476.0 758.3,1475.2 760.9,1475.5 763.4,1475.0 765.9,1476.3 768.4,1477.5 771.2,1476.6 774.0,1477.0 776.8,1477.2 779.5,1476.2 782.3,1476.1 785.1,1475.8 787.9,1475.5 790.4,1474.9 792.8,1473.1 795.2,1471.2 797.7,1469.7 798.0,1467.0 798.3,1464.8 798.6,1461.2 798.9,1458.6 799.2,1456.0 799.5,1453.1 799.8,1451.5 800.1,1448.2 800.4,1447.0 800.7,1443.6 801.0,1440.9 801.3,1440.1 801.6,1436.5 801.7,1433.7 801.9,1431.0 802.0,1428.6 802.2,1424.9 802.3,1422.8 802.5,1420.8 802.6,1418.8 802.8,1416.0 802.9,1413.8 803.0,1411.3 803.2,1407.8 803.3,1406.0 803.5,1403.6 803.6,1400.7 803.8,1397.9 803.9,1395.4 804.1,1392.9 804.2,1390.1 804.3,1387.1 804.5,1385.2 804.6,1382.6 804.8,1380.3 804.9,1378.2 805.1,1374.7 805.2,1372.4 805.4,1369.7 805.5,1367.1 805.7,1369.8 805.8,1372.0 806.0,1375.4 806.2,1377.0 806.3,1379.7 806.5,1382.5 806.7,1385.3 806.9,1387.9 807.0,1389.6 807.2,1391.8 807.4,1393.8 807.5,1397.0 807.7,1401.0 807.9,1403.3 808.0,1406.7 808.2,1409.4 808.4,1411.2 808.6,1412.6 808.7,1414.7 808.9,1417.7 809.1,1420.9 809.2,1424.6 809.4,1426.7 809.6,1429.2 809.9,1431.6 810.1,1434.6 810.3,1437.2 810.5,1439.6 810.8,1442.7 811.0,1444.7 811.2,1447.2 811.5,1449.2 811.7,1452.3 811.9,1454.0 812.2,1457.2 812.4,1459.2 812.6,1462.5 812.8,1464.5 813.1,1467.8 813.3,1469.7 815.2,1472.9 817.2,1473.9 819.1,1476.9 821.1,1477.7 823.0,1479.5 825.7,1479.4 828.5,1478.9 831.2,1479.1 834.0,1479.5 836.7,1479.5 839.5,1480.0 842.3,1481.4 845.1,1481.9 847.9,1481.7 850.7,1481.9 853.5,1481.5 856.3,1482.4 859.1,1482.6 861.9,1481.7 864.7,1481.1 867.4,1481.0 870.2,1482.8 873.0,1482.9 875.8,1482.4 878.6,1482.5 881.4,1481.5 884.2,1481.7 886.9,1480.9 889.7,1481.7 892.5,1481.5 895.3,1481.4 897.8,1479.7 900.2,1477.4 902.6,1476.5 905.1,1474.6 905.2,1472.2 905.4,1470.0 905.5,1466.9 905.7,1464.0 905.8,1463.2 906.0,1460.1 906.1,1457.3 906.3,1454.8 906.4,1452.5 906.5,1450.3 906.7,1447.0 906.8,1444.8 907.0,1442.6 907.1,1440.1 907.3,1436.6 907.4,1434.9 907.6,1432.9 907.7,1430.5 907.8,1426.9 908.0,1425.2 908.1,1422.3 908.3,1419.4 908.4,1416.9 908.6,1414.0 908.7,1411.9 908.9,1409.5 909.0,1407.2 909.1,1404.3 909.2,1402.6 909.3,1399.7 909.4,1397.7 909.5,1394.5 909.6,1391.9 909.7,1389.7 909.7,1386.8 909.8,1383.9 909.9,1380.4 910.0,1379.6 910.1,1377.7 910.2,1375.1 910.3,1372.8 910.4,1370.8 910.5,1368.4 910.6,1364.9 910.7,1362.7 910.8,1360.1 910.9,1357.1 911.0,1355.2 911.1,1352.6 911.2,1350.0 911.2,1347.2 911.3,1344.4 911.4,1341.9 911.5,1339.2 911.6,1336.8 911.7,1334.8 911.8,1331.7 911.9,1329.1 912.2,1327.4 912.5,1324.5 912.8,1321.7 913.1,1320.0 913.3,1317.0 913.6,1314.0 913.9,1310.4 914.2,1308.7 914.5,1305.6 914.8,1309.8 915.0,1311.0 915.3,1313.7 915.5,1316.7 915.8,1319.6 916.0,1320.9 916.3,1323.9 916.5,1326.4 916.8,1329.1 916.9,1332.1 917.1,1334.5 917.2,1337.3 917.3,1338.8 917.4,1340.8 917.6,1344.2 917.7,1345.7 917.8,1349.1 917.9,1351.5 918.1,1355.0 918.2,1357.6 918.3,1360.3 918.4,1362.2 918.6,1365.0 918.7,1367.2 918.8,1369.7 918.9,1372.8 919.1,1375.3 919.2,1377.0 919.3,1378.8 919.4,1381.0 919.6,1384.3 919.7,1387.4 919.8,1388.2 919.9,1390.7 920.1,1394.5 920.2,1397.5 920.3,1398.8 920.4,1401.6 920.6,1404.0 920.7,1407.2 920.9,1409.7 921.1,1411.7 921.3,1414.5 921.5,1416.4 921.7,1419.5 921.9,1422.6 922.1,1425.3 922.3,1427.0 922.5,1430.1 922.8,1432.8 923.0,1434.7 923.2,1438.0 923.4,1441.2 923.6,1444.1 923.8,1445.7 924.0,1449.0 924.2,1451.1 924.4,1454.0 924.6,1456.0 925.2,1459.3 925.7,1462.1 926.3,1463.9 926.8,1466.1 927.4,1469.4 927.9,1472.2 928.5,1473.6 930.8,1475.4 933.2,1477.8 935.5,1479.4 937.9,1479.8 940.2,1480.4 943.2,1480.0 946.1,1478.9 949.0,1478.0 952.0,1476.5 954.5,1477.7 957.1,1479.5 959.7,1480.9 962.2,1482.2 964.5,1481.0 966.9,1480.3 969.2,1478.7 971.8,1480.6 974.5,1481.2 977.1,1482.1 979.7,1482.8 982.4,1483.1 985.0,1484.0 987.5,1483.1 990.0,1483.7 992.5,1483.4 995.0,1484.1 997.5,1484.7 1000.0,1484.7 1002.5,1483.5 1005.0,1483.7 1007.5,1483.3 1010.0,1483.4 1012.5,1482.5 1015.0,1483.0 1017.5,1483.3 1020.0,1484.0 1022.5,1483.7 1025.0,1483.6 1027.5,1484.1 1030.0,1483.9 1032.5,1482.8 1035.0,1484.2 1037.5,1483.8 1040.0,1483.0 1042.5,1482.7 1045.0,1482.7 1047.5,1483.6 1050.0,1482.9 1052.5,1482.2 1055.0,1483.1 1056.8,1481.2 1058.5,1478.8 1060.2,1475.6 1062.0,1473.5 1062.7,1471.0 1063.5,1468.5 1064.2,1466.4 1065.0,1463.3 1065.7,1459.8 1066.5,1458.0 1067.2,1456.0 1067.9,1457.7 1068.7,1460.9 1069.4,1463.5 1070.2,1466.8 1070.9,1468.7 1071.7,1470.3 1072.4,1473.5 1074.2,1475.9 1075.9,1478.9 1077.7,1480.3 1079.4,1482.2 1082.2,1482.9 1085.0,1483.4 1087.8,1484.1 1090.6,1484.9 1093.4,1484.8 1096.2,1485.1 1099.0,1484.2 1101.8,1482.6 1104.6,1484.0 1107.4,1482.2 1108.6,1480.1 1109.8,1476.7 1111.1,1473.8 1112.3,1472.5 1113.5,1470.0 1114.2,1467.2 1114.9,1465.3 1115.6,1462.1 1116.3,1460.0 1117.0,1457.7 1117.6,1459.1 1118.3,1462.7 1118.9,1464.8 1119.5,1467.7 1120.1,1470.3 1120.8,1472.5 1121.4,1475.2 1122.7,1476.6 1124.1,1479.4 1125.4,1481.4 1126.7,1484.0 1129.3,1484.5 1131.9,1482.7 1134.6,1483.1 1137.2,1483.6 1139.8,1483.7 1142.4,1484.0 1145.0,1482.8 1147.7,1482.3 1150.3,1480.4 1152.9,1479.1 1155.6,1479.7 1158.2,1478.7 1159.2,1475.6 1160.3,1474.2 1161.3,1471.3 1162.4,1469.8 1163.4,1466.5 1163.8,1464.7 1164.3,1462.0 1164.7,1458.1 1165.2,1456.4 1165.6,1453.7 1166.0,1450.7 1166.5,1447.0 1166.9,1445.2 1167.4,1443.3 1167.8,1440.2 1168.3,1443.0 1168.9,1446.0 1169.4,1449.2 1169.9,1451.5 1170.5,1454.4 1171.0,1456.4 1171.6,1459.0 1172.1,1461.2 1172.6,1464.7 1173.1,1467.2 1173.6,1470.5 1174.1,1472.9 1174.6,1475.3 1175.1,1477.0 1175.6,1480.5 1178.5,1480.8 1181.5,1482.8 1184.4,1484.8 1187.0,1484.2 1189.7,1483.2 1192.3,1482.4 1194.9,1482.2 1195.6,1479.3 1196.4,1476.2 1197.1,1472.5 1197.9,1470.7 1198.6,1469.7 1199.4,1468.4 1200.1,1464.7 1200.6,1464.6 1201.2,1461.2 1201.7,1458.1 1202.2,1454.3 1202.8,1452.4 1203.3,1449.5 1203.8,1446.9 1204.3,1444.3 1204.9,1441.7 1205.4,1439.4 1205.9,1441.0 1206.3,1445.1 1206.8,1447.1 1207.3,1449.4 1207.8,1451.8 1208.2,1454.7 1208.7,1457.3 1209.2,1460.3 1209.7,1462.1 1210.1,1465.1 1210.6,1466.5 1211.2,1468.6 1211.8,1471.1 1212.3,1474.0 1212.9,1476.8 1213.5,1479.1 1214.1,1482.2 1216.6,1482.3 1219.0,1484.2 1221.5,1485.1 1223.9,1486.9 1226.4,1486.6 1229.0,1488.6 1231.7,1486.5 1234.3,1486.0 1236.9,1485.5 1239.5,1485.2 1242.2,1485.6 1244.8,1485.5 1247.4,1485.7 1250.0,1485.2 1252.6,1486.2 1255.3,1485.6 1257.9,1486.9 1260.5,1486.3 1263.1,1487.2 1265.7,1486.1 1268.4,1486.2 1271.0,1487.3 1273.6,1486.6 1276.2,1484.6 1278.8,1484.1 1281.5,1482.6 1284.1,1481.3 1286.4,1482.5 1288.8,1484.0 1291.1,1485.7 1293.2,1484.3 1295.3,1482.2 1297.4,1480.5 1299.5,1479.7 1301.6,1478.7 1304.0,1479.7 1306.3,1481.6 1308.7,1483.0 1311.2,1481.7 1313.7,1481.8 1316.2,1481.8 1318.7,1481.3 1321.2,1480.4 1323.7,1480.9 1326.2,1479.5 1327.7,1476.5 1329.1,1474.6 1330.6,1472.1 1332.1,1470.2 1333.5,1467.8 1335.0,1465.5 1335.9,1468.2 1336.7,1470.2 1337.6,1473.1 1338.5,1475.2 1339.3,1478.7 1340.2,1481.2 1342.8,1483.0 1345.5,1485.6 1348.2,1485.1 1350.9,1485.3 1353.7,1485.1 1356.4,1485.1 1359.1,1484.9 1361.8,1485.4 1364.6,1484.4 1367.3,1484.8 1370.0,1485.6 1372.6,1484.9 1375.2,1484.7 1377.9,1484.5 1380.5,1484.6 1383.1,1484.3 1385.8,1483.9 1388.4,1483.0 1391.0,1483.0 1392.2,1480.3 1393.3,1477.5 1394.5,1475.5 1395.7,1473.4 1396.8,1471.7 1398.0,1469.0 1398.7,1466.5 1399.5,1464.6 1400.2,1462.1 1401.0,1459.7 1401.7,1456.4 1402.5,1453.8 1403.2,1451.5 1404.1,1453.8 1404.9,1456.8 1405.8,1459.8 1406.7,1462.9 1407.5,1465.3 1408.4,1467.2 1411.1,1470.8 1413.7,1472.5 1415.1,1475.4 1416.5,1477.5 1417.9,1479.6 1419.3,1482.9 1420.7,1484.7 1423.8,1485.0 1426.8,1484.9 1429.9,1483.9 1432.9,1484.7 1435.5,1482.9 1438.2,1482.3 1440.8,1481.1 1443.4,1481.2 1446.2,1480.9 1449.0,1482.0 1451.8,1483.1 1454.6,1484.3 1457.4,1484.7 1459.7,1483.5 1462.1,1484.1 1464.4,1481.2 1466.7,1481.2 1469.1,1479.8 1471.4,1477.7 1472.8,1474.9 1474.2,1473.3 1475.6,1470.3 1477.0,1467.0 1478.4,1464.6 1479.4,1467.2 1480.4,1469.6 1481.4,1473.0 1482.4,1474.9 1483.4,1478.3 1484.4,1480.6 1485.4,1483.0 1487.7,1484.1 1490.1,1484.9 1492.4,1486.5 1494.9,1485.7 1497.4,1485.5 1499.9,1484.8 1502.4,1483.0 1504.9,1483.1 1507.4,1483.1 1509.9,1483.0 1511.0,1480.6 1512.2,1478.2 1513.3,1475.6 1514.4,1472.6 1515.5,1469.2 1516.7,1467.6 1517.8,1465.5 1518.7,1467.7 1519.5,1470.2 1520.4,1473.6 1521.3,1475.5 1522.2,1478.1 1523.0,1480.7 1523.9,1483.0 1526.2,1484.9 1528.6,1485.8 1530.9,1487.3 1533.4,1486.8 1535.9,1487.0 1538.5,1487.1 1541.0,1486.6 1543.5,1486.4 1546.0,1485.8 1548.6,1487.0 1551.1,1487.5 1553.6,1487.3 1556.2,1487.2 1558.9,1486.1 1561.5,1486.9 1564.1,1486.5 1566.8,1486.3 1569.4,1485.9 1572.0,1486.5 1574.6,1486.3 1577.3,1486.7 1579.9,1486.5 1580.9,1484.4 1581.8,1481.6 1582.8,1480.2 1583.8,1477.2 1584.7,1474.5 1585.7,1472.9 1586.7,1470.5 1587.6,1468.2 1588.6,1465.5 1590.0,1467.8 1591.4,1470.2 1592.8,1471.8 1594.2,1473.5 1595.6,1476.0 1599.1,1475.5 1602.6,1476.0 1604.3,1478.8 1606.1,1480.4 1607.8,1482.2 1609.6,1484.7 1612.5,1484.0 1615.5,1484.0 1618.4,1484.7 1620.5,1482.4 1622.6,1480.1 1624.6,1478.1 1626.7,1477.6 1628.8,1476.0 1631.1,1478.5 1633.5,1480.1 1635.8,1483.0 1638.4,1483.4 1641.0,1484.9 1643.7,1485.2 1646.3,1485.6 1649.1,1485.0 1652.0,1484.6 1654.8,1483.7 1657.7,1484.5 1660.5,1483.0 1662.2,1480.8 1664.0,1478.2 1665.8,1477.5 1667.5,1474.6 1669.2,1473.8 1671.0,1470.7 1672.5,1472.4 1674.0,1475.5 1675.5,1476.9 1677.0,1479.0 1678.5,1481.2 1680.0,1484.0 1681.5,1485.6 1683.7,1483.6 1685.8,1481.5 1688.0,1480.1 1690.2,1477.7 1692.8,1479.0 1695.5,1479.1 1698.1,1480.5 1700.7,1482.1 1703.0,1481.1 1705.4,1479.9 1707.7,1479.1 1710.0,1477.2 1712.4,1475.9 1714.7,1476.0 1716.5,1477.3 1718.2,1480.0 1720.0,1482.5 1721.7,1484.4 1723.5,1486.5 1726.3,1487.1 1729.1,1487.9 1731.9,1487.7 1734.7,1487.5 1737.5,1488.2 1740.0,1488.0 1742.5,1487.8 1745.0,1488.3 1747.5,1486.3 1750.0,1486.2 1752.5,1486.7 1755.0,1485.6 1756.7,1484.0 1758.5,1480.5 1760.2,1478.8 1761.9,1476.8 1763.7,1475.2 1765.4,1472.5 1766.9,1475.3 1768.4,1477.4 1769.9,1480.4 1771.4,1481.7 1772.9,1484.1 1774.4,1486.5 1775.9,1487.3 1778.8,1488.0 1781.8,1486.4 1784.7,1484.7 1786.2,1483.4 1787.6,1480.6 1789.1,1478.7 1790.5,1477.1 1792.0,1474.8 1793.4,1471.6 1795.2,1474.7 1796.9,1476.7 1798.7,1479.2 1800.4,1481.0 1802.2,1481.6 1803.9,1484.7 1806.5,1484.6 1809.2,1486.7 1811.8,1486.8 1814.4,1487.2 1817.0,1487.6 1819.7,1488.7 1822.3,1487.9 1824.9,1488.2 1827.4,1488.5 1829.9,1488.2 1832.4,1488.5 1834.9,1488.8 1837.4,1488.1 1839.9,1488.8 1842.4,1489.2 1844.9,1488.9 1847.4,1489.0 1849.9,1488.6 1852.4,1488.0 1854.9,1488.0 1857.4,1487.9 1859.9,1488.2 1862.2,1486.1 1864.6,1485.2 1866.9,1484.3 1869.2,1483.1 1871.6,1483.0 1873.9,1482.1 1876.8,1484.2 1879.7,1482.3 1882.6,1484.7 1884.9,1481.8 1887.3,1480.8 1889.6,1477.7 1891.6,1479.7 1893.7,1480.4 1895.8,1481.4 1897.8,1483.8 1899.9,1486.2 1901.9,1487.3 1904.5,1486.8 1907.2,1486.8 1909.8,1485.9 1912.4,1484.7 1914.6,1483.1 1916.8,1481.2 1918.9,1478.6 1921.1,1476.8 1923.3,1478.7 1925.5,1481.1 1927.7,1482.8 1929.9,1485.6 1932.8,1486.3 1935.7,1487.1 1938.6,1488.2 1941.1,1488.2 1943.5,1486.9 1946.0,1486.6 1948.4,1485.8 1950.9,1484.7 1953.3,1484.1 1955.8,1481.3 1958.2,1480.5 1960.7,1478.6 1963.1,1476.0 1965.9,1476.8 1968.7,1477.9 1971.5,1478.8 1974.3,1479.2 1977.1,1480.3 1979.9,1480.8 1982.7,1481.5 1985.5,1483.4 1988.3,1483.1 1991.1,1484.7 1994.3,1483.9 1997.4,1483.0 2000.6,1482.4 2003.1,1483.9 2005.7,1485.0 2008.2,1486.1 2010.8,1487.2 2013.3,1487.7 2016.5,1486.0 2019.7,1485.6 2022.2,1485.7 2024.8,1484.8 2027.3,1485.6 2029.9,1487.2 2032.4,1488.8 2035.1,1486.8 2037.7,1487.3 2040.3,1487.5 2043.0,1488.7 2045.7,1488.3 2048.3,1488.1 2050.9,1487.9 2053.6,1488.2 2056.2,1488.1 2058.9,1488.3 2061.6,1488.7 2064.2,1489.0 2066.8,1488.2 2069.5,1489.1 2072.2,1488.5 2074.8,1488.8 2077.5,1489.0 2080.1,1488.1 2082.8,1488.6 2085.4,1489.4 2088.1,1487.6 2090.7,1488.0 2093.3,1488.6 2096.0,1488.2 2098.7,1487.2 2101.3,1487.4 2104.0,1486.7 2106.7,1486.6 2109.3,1486.4 2112.0,1485.4 2114.6,1484.9 2117.3,1484.5 2120.0,1484.1 2122.6,1485.2 2125.2,1485.7 2127.9,1485.1 2130.5,1485.7 2133.2,1486.7 2135.7,1485.7 2138.1,1484.5 2140.6,1483.5 2142.7,1482.6 2144.8,1480.6 2147.0,1478.6 2149.1,1476.1 2152.2,1477.8 2155.4,1479.2 2157.5,1480.7 2159.6,1482.7 2161.8,1484.3 2163.9,1486.5 2166.0,1487.7"/>
<polyline stroke="#34ab6b" stroke-width="8.0" points="192.8,1543.8 195.5,1544.8 198.2,1544.9 200.8,1544.6 203.5,1544.7 206.2,1544.4 208.8,1542.9 211.5,1542.8 214.2,1542.9 216.8,1543.4 219.5,1543.2 222.1,1542.0 224.8,1542.5 227.4,1542.6 230.1,1542.9 232.7,1544.0 235.4,1544.1 238.0,1543.8 240.7,1543.5 243.3,1544.8 246.0,1544.0 248.6,1544.2 251.3,1544.2 253.9,1544.4 256.6,1545.2 259.2,1543.7 261.9,1543.4 264.5,1544.1 267.2,1544.1 269.8,1543.0 272.5,1543.8 275.2,1543.0 277.8,1543.2 280.5,1543.6 283.1,1542.4 285.8,1542.3 288.5,1541.9 291.1,1541.2 293.8,1540.9 296.1,1540.2 298.3,1538.6 300.6,1537.3 302.9,1536.5 305.1,1534.3 307.4,1534.1 310.1,1534.8 312.9,1536.1 315.6,1537.7 318.4,1537.9 321.1,1539.0 323.9,1539.8 326.6,1541.0 329.4,1542.0 332.2,1541.7 335.0,1542.7 337.7,1543.0 340.5,1543.8 342.9,1544.5 345.4,1545.9 347.8,1545.5 350.2,1546.7 352.6,1548.8 355.0,1549.1 357.5,1549.4 359.9,1550.6 362.7,1551.0 365.5,1551.8 368.3,1551.8 371.0,1552.9 373.8,1552.8 376.6,1553.7 379.4,1554.5 381.8,1555.2 384.2,1556.4 386.7,1557.8 389.1,1559.6 391.5,1560.0 393.9,1561.2 396.4,1562.0 398.8,1563.3 401.2,1565.3 403.7,1565.5 406.1,1564.9 408.5,1565.3 411.0,1566.7 413.4,1567.0 415.8,1567.1 418.3,1568.0 420.7,1568.7 423.1,1569.5 425.6,1569.9 428.0,1571.0 430.6,1570.9 433.3,1572.2 435.9,1573.0 438.6,1573.0 441.2,1573.1 443.9,1573.3 446.5,1574.3 449.2,1574.5 451.8,1574.2 454.5,1574.8 457.1,1575.9 459.8,1575.6 462.4,1575.4 465.1,1576.0 467.7,1576.3 470.4,1577.3 473.0,1577.1 475.7,1576.9 478.3,1576.9 481.0,1576.5 483.6,1577.2 486.3,1577.8 488.9,1577.5 491.6,1577.9 494.2,1578.4 496.9,1579.4 499.5,1579.0 502.2,1579.4 504.8,1578.9 507.5,1578.4 510.1,1578.8 512.8,1578.2 515.4,1578.8 517.9,1578.7 520.5,1578.3 523.0,1577.7 525.5,1578.0 528.0,1577.8 530.6,1578.2 533.1,1577.2 535.6,1577.4 538.2,1577.5 540.7,1576.9 543.3,1574.8 545.9,1573.7 548.5,1571.0 549.6,1569.0 550.8,1565.7 552.0,1562.9 553.1,1560.0 553.4,1557.5 553.7,1554.0 554.1,1551.2 554.4,1548.3 554.7,1546.3 555.0,1545.1 555.4,1541.5 555.7,1539.9 556.0,1536.7 556.7,1534.8 557.4,1531.4 558.2,1527.5 558.9,1525.3 559.6,1522.2 560.5,1524.8 561.4,1526.8 562.2,1530.2 563.1,1533.0 564.0,1535.3 565.2,1532.9 566.5,1530.2 567.8,1526.6 569.0,1525.1 569.7,1522.8 570.5,1520.2 571.2,1517.4 571.9,1515.7 572.7,1513.7 573.4,1510.6 573.6,1508.0 573.8,1505.0 574.0,1500.8 574.2,1499.0 574.4,1496.5 574.6,1493.8 574.8,1492.2 575.0,1489.8 575.2,1488.4 575.4,1485.2 575.6,1481.6 575.7,1478.7 575.7,1476.1 575.8,1473.5 575.9,1470.8 575.9,1468.7 576.0,1465.2 576.1,1463.9 576.1,1461.5 576.2,1459.5 576.3,1454.8 576.3,1453.4 576.4,1450.0 576.5,1448.6 576.5,1445.6 576.6,1442.4 576.6,1440.7 576.7,1437.5 576.7,1435.0 576.8,1432.5 576.9,1430.0 576.9,1427.5 577.0,1425.0 577.0,1422.5 577.1,1420.0 577.1,1417.5 577.2,1415.0 577.3,1412.5 577.3,1410.0 577.4,1407.5 577.4,1405.0 577.5,1402.5 577.5,1400.0 577.6,1397.5 577.7,1395.0 577.7,1392.5 577.8,1390.0 577.8,1387.5 577.9,1385.0 577.9,1382.5 578.0,1380.0 578.0,1377.5 578.1,1375.0 578.1,1372.5 578.2,1370.0 578.2,1367.5 578.3,1365.0 578.4,1362.5 578.4,1360.0 578.5,1357.5 578.5,1355.0 578.5,1352.5 578.6,1350.0 578.6,1347.5 578.7,1345.0 578.8,1342.5 578.8,1340.0 578.9,1337.5 578.9,1335.0 579.0,1332.5 579.0,1330.0 579.1,1327.5 579.1,1325.0 579.1,1322.5 579.2,1320.0 579.2,1317.5 579.3,1315.0 579.4,1312.5 579.4,1310.0 579.5,1307.5 579.5,1305.0 579.6,1302.5 579.6,1300.0 579.6,1297.5 579.7,1295.0 579.7,1292.5 579.7,1289.9 579.8,1287.4 579.8,1284.9 579.8,1282.4 579.8,1279.9 579.9,1277.4 579.9,1274.8 579.9,1272.3 580.0,1269.8 580.0,1267.3 580.0,1264.8 580.1,1262.3 580.1,1259.8 580.1,1257.2 580.1,1254.7 580.2,1252.2 580.2,1249.7 580.2,1247.2 580.3,1244.7 580.3,1242.2 580.3,1239.6 580.4,1237.1 580.4,1234.6 580.4,1232.1 580.4,1229.6 580.5,1227.1 580.5,1224.5 580.5,1222.0 580.6,1219.5 580.6,1217.0 580.6,1214.5 580.6,1211.9 580.7,1209.4 580.7,1206.8 580.7,1204.3 580.7,1201.7 580.7,1199.2 580.7,1196.7 580.8,1194.1 580.8,1191.6 580.8,1189.0 580.8,1186.5 580.8,1183.9 580.8,1181.4 580.9,1178.8 580.9,1176.3 580.9,1173.8 580.9,1171.2 580.9,1168.7 580.9,1166.1 581.0,1163.6 581.0,1161.0 581.0,1158.5 581.0,1156.0 581.0,1153.4 581.1,1150.9 581.1,1148.3 581.1,1145.8 581.1,1143.2 581.1,1140.7 581.1,1138.2 581.2,1135.6 581.2,1133.1 581.2,1130.5 581.2,1128.0 581.2,1125.4 581.2,1122.9 581.3,1120.3 581.3,1117.8 581.3,1115.3 581.3,1112.7 581.3,1110.2 581.3,1107.6 581.4,1105.1 581.4,1102.5 581.4,1100.0 581.4,1097.5 581.4,1095.0 581.4,1092.5 581.4,1090.0 581.4,1087.5 581.5,1085.0 581.5,1082.5 581.5,1080.0 581.5,1077.5 581.5,1075.0 581.5,1072.5 581.5,1070.0 581.5,1067.5 581.5,1065.0 581.5,1062.5 581.6,1060.0 581.6,1057.5 581.6,1055.0 581.6,1052.5 581.6,1050.0 581.6,1047.5 581.6,1045.0 581.6,1042.5 581.6,1040.0 581.6,1037.5 581.7,1035.0 581.7,1032.5 581.7,1030.0 581.7,1027.5 581.7,1025.0 581.7,1022.5 581.7,1020.0 581.7,1017.5 581.7,1015.0 581.8,1012.5 581.8,1010.0 581.8,1007.5 581.8,1005.0 581.8,1002.5 581.8,1000.0 581.8,997.5 581.8,995.0 581.8,992.5 581.8,990.0 581.9,987.5 581.9,985.0 581.9,982.5 581.9,980.0 581.9,977.5 581.9,975.0 581.9,972.5 581.9,970.0 581.9,967.5 581.9,965.0 582.0,962.5 582.0,960.0 582.0,957.5 582.0,955.0 582.0,952.5 582.0,950.0 582.0,947.5 582.0,945.0 582.0,942.5 582.0,940.0 582.1,937.5 582.1,935.0 582.1,932.5 582.1,930.0 582.1,927.5 582.1,925.0 582.1,922.5 582.1,920.0 582.1,917.5 582.1,915.0 582.1,912.5 582.2,910.0 582.2,907.5 582.2,905.0 582.2,902.5 582.2,900.0 582.2,897.5 582.2,895.0 582.2,892.5 582.2,890.0 582.2,887.5 582.2,885.0 582.2,882.5 582.3,880.0 582.3,877.5 582.3,875.0 582.3,872.5 582.3,870.0 582.3,867.5 582.3,865.0 582.3,862.5 582.3,860.0 582.3,857.5 582.3,855.0 582.3,852.5 582.4,850.0 582.4,847.5 582.4,845.0 582.4,842.5 582.4,840.0 582.4,837.5 582.4,835.0 582.4,832.5 582.4,830.0 582.4,827.5 582.4,825.0 582.4,822.5 582.5,820.0 582.5,817.5 582.5,815.0 582.5,812.5 582.5,810.0 582.5,807.5 582.5,805.0 582.5,802.5 582.5,800.0 582.5,797.5 582.5,795.0 582.5,792.5 582.6,790.0 582.6,787.5 582.6,785.0 582.6,782.5 582.6,780.0 582.6,777.5 582.6,775.0 582.6,772.5 582.6,770.0 582.6,767.5 582.6,765.0 582.7,762.5 582.7,760.0 582.7,757.5 582.7,755.0 582.7,752.5 582.7,750.0 582.7,747.5 582.7,745.0 582.7,742.5 582.7,740.0 582.7,737.5 582.7,735.0 582.8,732.5 582.8,730.0 582.8,727.5 582.8,725.0 582.8,722.5 582.8,720.0 582.8,717.5 582.8,715.0 582.8,712.5 582.8,710.0 582.8,707.5 582.8,705.0 582.9,702.5 582.9,700.0 582.9,697.5 582.9,695.0 582.9,692.5 582.9,690.0 582.9,687.5 582.9,685.0 582.9,682.5 582.9,680.0 582.9,677.5 582.9,675.0 583.0,672.5 583.0,670.0 583.0,667.5 583.0,665.0 583.0,662.5 583.0,660.0 583.0,657.5 583.0,655.0 583.0,652.5 583.0,650.0 583.0,647.5 583.0,645.0 583.1,642.5 583.1,640.0 583.1,637.5 583.1,635.0 583.1,632.5 583.1,630.0 583.1,627.5 583.1,625.0 583.1,622.5 583.1,620.0 583.1,617.5 583.1,615.0 583.2,612.5 583.2,610.0 583.2,607.5 583.2,605.0 583.2,602.5 583.2,600.0 583.2,597.5 583.2,595.0 583.2,592.5 583.2,590.0 583.2,587.5 583.3,585.0 583.3,582.5 583.3,580.0 583.3,577.5 583.3,575.0 583.3,572.5 583.3,570.0 583.3,567.5 583.3,565.0 583.4,562.5 583.4,560.0 583.4,557.5 583.4,555.0 583.4,552.5 583.4,550.0 583.4,547.5 583.4,545.0 583.4,542.5 583.4,540.0 583.5,537.5 583.5,535.0 583.5,532.5 583.5,530.0 583.5,527.5 583.5,525.0 583.5,522.5 583.5,520.0 583.5,517.5 583.5,515.0 583.6,512.5 583.6,510.0 583.6,507.5 583.6,505.0 583.6,502.5 583.6,500.0 583.6,497.5 583.6,495.0 583.6,492.5 583.6,490.0 583.6,487.5 583.7,485.0 583.7,482.5 583.7,480.0 583.7,477.5 583.7,475.0 583.7,472.5 583.7,470.0 583.7,467.5 583.7,465.0 583.8,462.5 583.8,460.0 583.8,457.5 583.8,455.0 583.8,452.5 583.8,450.0 583.8,447.5 583.8,445.0 583.8,442.5 583.8,440.0 583.9,437.5 583.9,435.0 583.9,432.5 583.9,430.0 583.9,427.5 583.9,425.0 583.9,422.5 583.9,420.0 583.9,417.5 583.9,415.0 584.0,412.5 584.0,410.0 584.0,407.5 584.0,405.0 584.0,402.5 584.0,400.0 584.0,397.5 584.0,395.0 584.1,392.5 584.1,390.0 584.1,387.5 584.1,385.0 584.1,382.5 584.2,380.0 584.2,377.5 584.2,375.0 584.2,372.5 584.2,370.0 584.3,367.5 584.3,365.0 584.3,362.5 584.3,360.0 584.3,357.5 584.4,355.0 584.4,352.5 584.4,350.0 584.4,347.5 584.4,345.0 584.5,342.5 584.5,340.0 584.5,337.5 584.5,335.0 584.5,332.5 584.6,330.0 584.6,327.5 584.6,325.0 584.6,322.5 584.6,320.0 584.7,317.5 584.7,315.0 584.7,312.5 584.7,310.0 584.7,307.5 584.8,305.0 584.8,302.5 584.8,300.0 584.8,297.5 584.9,294.9 584.9,292.4 584.9,289.8 584.9,287.3 585.0,284.8 585.0,282.2 585.0,279.7 585.1,277.1 585.1,274.6 585.1,272.0 585.1,269.5 585.2,267.0 585.2,264.4 585.2,261.9 585.3,259.3 585.3,256.8 585.3,254.2 585.4,251.7 585.4,249.2 585.4,246.6 585.4,244.1 585.5,241.5 585.5,239.0 585.5,241.5 585.5,244.1 585.6,246.6 585.6,249.2 585.6,251.7 585.6,254.2 585.6,256.8 585.7,259.3 585.7,261.9 585.7,264.4 585.7,267.0 585.8,269.5 585.8,272.0 585.8,274.6 585.8,277.1 585.8,279.7 585.9,282.2 585.9,284.8 585.9,287.3 585.9,289.8 585.9,292.4 586.0,294.9 586.0,297.5 586.0,300.0 586.0,302.5 586.0,305.0 586.0,307.5 586.0,310.0 586.0,312.5 586.1,315.0 586.1,317.5 586.1,320.0 586.1,322.5 586.1,325.0 586.1,327.5 586.1,330.0 586.1,332.5 586.1,335.0 586.1,337.5 586.2,340.0 586.2,342.5 586.2,345.0 586.2,347.5 586.2,350.0 586.2,352.5 586.2,355.0 586.2,357.5 586.2,360.0 586.2,362.5 586.3,365.0 586.3,367.5 586.3,370.0 586.3,372.5 586.3,375.0 586.3,377.5 586.3,380.0 586.3,382.5 586.3,385.0 586.4,387.5 586.4,390.0 586.4,392.5 586.4,395.0 586.4,397.5 586.4,400.0 586.4,402.5 586.4,405.0 586.4,407.5 586.4,410.0 586.4,412.5 586.4,415.0 586.5,417.5 586.5,420.0 586.5,422.5 586.5,425.0 586.5,427.5 586.5,430.0 586.5,432.5 586.5,435.0 586.5,437.5 586.5,440.0 586.5,442.5 586.5,445.0 586.5,447.5 586.5,450.0 586.6,452.5 586.6,455.0 586.6,457.5 586.6,460.0 586.6,462.5 586.6,465.0 586.6,467.5 586.6,470.0 586.6,472.5 586.6,475.0 586.6,477.5 586.6,480.0 586.6,482.5 586.7,485.0 586.7,487.5 586.7,490.0 586.7,492.5 586.7,495.0 586.7,497.5 586.7,500.0 586.7,502.5 586.7,505.0 586.7,507.5 586.7,510.0 586.7,512.5 586.7,515.0 586.8,517.5 586.8,520.0 586.8,522.5 586.8,525.0 586.8,527.5 586.8,530.0 586.8,532.5 586.8,535.0 586.8,537.5 586.8,540.0 586.8,542.5 586.8,545.0 586.8,547.5 586.9,550.0 586.9,552.5 586.9,555.0 586.9,557.5 586.9,560.0 586.9,562.5 586.9,565.0 586.9,567.5 586.9,570.0 586.9,572.5 586.9,575.0 586.9,577.5 586.9,580.0 586.9,582.5 587.0,585.0 587.0,587.5 587.0,590.0 587.0,592.5 587.0,595.0 587.0,597.5 587.0,600.0 587.0,602.5 587.0,605.0 587.0,607.5 587.0,610.0 587.0,612.5 587.0,615.0 587.0,617.5 587.1,620.0 587.1,622.5 587.1,625.0 587.1,627.5 587.1,630.0 587.1,632.5 587.1,635.0 587.1,637.5 587.1,640.0 587.1,642.5 587.1,645.0 587.1,647.5 587.1,650.0 587.1,652.5 587.2,655.0 587.2,657.5 587.2,660.0 587.2,662.5 587.2,665.0 587.2,667.5 587.2,670.0 587.2,672.5 587.2,675.0 587.2,677.5 587.2,680.0 587.2,682.5 587.2,685.0 587.2,687.5 587.2,690.0 587.3,692.5 587.3,695.0 587.3,697.5 587.3,700.0 587.3,702.5 587.3,705.0 587.3,707.5 587.3,710.0 587.3,712.5 587.3,715.0 587.3,717.5 587.3,720.0 587.3,722.5 587.3,725.0 587.4,727.5 587.4,730.0 587.4,732.5 587.4,735.0 587.4,737.5 587.4,740.0 587.4,742.5 587.4,745.0 587.4,747.5 587.4,750.0 587.4,752.5 587.4,755.0 587.4,757.5 587.4,760.0 587.5,762.5 587.5,765.0 587.5,767.5 587.5,770.0 587.5,772.5 587.5,775.0 587.5,777.5 587.5,780.0 587.5,782.5 587.5,785.0 587.5,787.5 587.5,790.0 587.5,792.5 587.5,795.0 587.5,797.5 587.6,800.0 587.6,802.5 587.6,805.0 587.6,807.5 587.6,810.0 587.6,812.5 587.6,815.0 587.6,817.5 587.6,820.0 587.6,822.5 587.6,825.0 587.6,827.5 587.6,830.0 587.6,832.5 587.7,835.0 587.7,837.5 587.7,840.0 587.7,842.5 587.7,845.0 587.7,847.5 587.7,850.0 587.7,852.5 587.7,855.0 587.7,857.5 587.7,860.0 587.7,862.5 587.7,865.0 587.7,867.5 587.7,870.0 587.8,872.5 587.8,875.0 587.8,877.5 587.8,880.0 587.8,882.5 587.8,885.0 587.8,887.5 587.8,890.0 587.8,892.5 587.8,895.0 587.8,897.5 587.8,900.0 587.8,902.5 587.8,905.0 587.9,907.5 587.9,910.0 587.9,912.5 587.9,915.0 587.9,917.5 587.9,920.0 587.9,922.5 587.9,925.0 587.9,927.5 587.9,930.0 587.9,932.5 587.9,935.0 587.9,937.5 587.9,940.0 587.9,942.5 588.0,945.0 588.0,947.5 588.0,950.0 588.0,952.5 588.0,955.0 588.0,957.5 588.0,960.0 588.0,962.5 588.0,965.0 588.0,967.5 588.0,970.0 588.0,972.5 588.0,975.0 588.0,977.5 588.1,980.0 588.1,982.5 588.1,985.0 588.1,987.5 588.1,990.0 588.1,992.5 588.1,995.0 588.1,997.5 588.1,1000.0 588.1,1002.5 588.1,1005.0 588.1,1007.5 588.1,1010.0 588.1,1012.5 588.2,1015.0 588.2,1017.5 588.2,1020.0 588.2,1022.5 588.2,1025.0 588.2,1027.5 588.2,1030.0 588.2,1032.5 588.2,1035.0 588.2,1037.5 588.2,1040.0 588.2,1042.5 588.2,1045.0 588.2,1047.5 588.3,1050.0 588.3,1052.5 588.3,1055.0 588.3,1057.5 588.3,1060.0 588.3,1062.5 588.3,1065.0 588.3,1067.5 588.3,1070.0 588.3,1072.5 588.3,1075.0 588.3,1077.5 588.3,1080.0 588.4,1082.5 588.4,1085.0 588.4,1087.5 588.4,1090.0 588.4,1092.5 588.4,1095.0 588.4,1097.5 588.4,1100.0 588.4,1102.5 588.4,1105.1 588.4,1107.6 588.4,1110.2 588.5,1112.7 588.5,1115.3 588.5,1117.8 588.5,1120.3 588.5,1122.9 588.5,1125.4 588.5,1128.0 588.5,1130.5 588.5,1133.1 588.6,1135.6 588.6,1138.2 588.6,1140.7 588.6,1143.2 588.6,1145.8 588.6,1148.3 588.6,1150.9 588.6,1153.4 588.6,1156.0 588.6,1158.5 588.7,1161.0 588.7,1163.6 588.7,1166.1 588.7,1168.7 588.7,1171.2 588.7,1173.8 588.7,1176.3 588.7,1178.8 588.7,1181.4 588.8,1183.9 588.8,1186.5 588.8,1189.0 588.8,1191.6 588.8,1194.1 588.8,1196.7 588.8,1199.2 588.8,1201.7 588.8,1204.3 588.9,1206.8 588.9,1209.4 588.9,1211.9 588.9,1214.5 588.9,1217.0 588.9,1219.5 588.9,1222.0 589.0,1224.5 589.0,1227.1 589.0,1229.6 589.0,1232.1 589.0,1234.6 589.1,1237.1 589.1,1239.6 589.1,1242.2 589.1,1244.7 589.2,1247.2 589.2,1249.7 589.2,1252.2 589.2,1254.7 589.2,1257.2 589.3,1259.8 589.3,1262.3 589.3,1264.8 589.3,1267.3 589.3,1269.8 589.4,1272.3 589.4,1274.8 589.4,1277.4 589.4,1279.9 589.5,1282.4 589.5,1284.9 589.5,1287.4 589.5,1289.9 589.5,1292.5 589.6,1295.0 589.6,1297.5 589.6,1300.0 589.6,1302.5 589.7,1305.0 589.7,1307.5 589.7,1310.0 589.7,1312.5 589.8,1315.0 589.8,1317.5 589.8,1320.0 589.9,1322.5 589.9,1325.0 589.9,1327.5 589.9,1330.0 590.0,1332.5 590.0,1335.0 590.0,1337.5 590.0,1340.0 590.1,1342.5 590.1,1345.0 590.1,1347.5 590.2,1350.0 590.2,1352.5 590.2,1355.0 590.2,1357.5 590.3,1360.0 590.3,1362.5 590.3,1365.0 590.4,1367.5 590.4,1370.0 590.4,1372.5 590.4,1375.0 590.5,1377.5 590.5,1380.0 590.5,1382.5 590.5,1385.0 590.6,1387.5 590.6,1390.0 590.6,1392.5 590.6,1395.0 590.6,1397.5 590.6,1400.0 590.7,1402.5 590.7,1405.0 590.7,1407.5 590.7,1410.0 590.7,1412.5 590.8,1415.0 590.8,1417.5 590.8,1420.0 590.8,1422.5 590.8,1425.0 590.8,1427.5 590.9,1430.0 590.9,1432.5 590.9,1435.0 590.9,1437.5 590.9,1440.7 590.9,1443.5 591.0,1445.8 591.0,1448.1 591.0,1450.0 591.0,1452.4 591.0,1454.9 591.0,1458.2 590.9,1460.8 590.9,1463.4 590.9,1465.0 590.9,1467.6 590.9,1470.9 590.8,1473.6 590.8,1476.0 590.8,1479.7 590.8,1481.6 591.0,1484.3 591.1,1487.7 591.3,1490.8 591.5,1492.2 591.7,1493.9 591.8,1496.1 592.0,1499.3 592.2,1501.7 592.3,1504.0 592.5,1507.6 592.7,1509.0 592.8,1512.1 593.0,1515.6 593.2,1517.7 593.4,1519.4 593.5,1521.8 593.7,1525.1 594.7,1527.4 595.6,1529.8 596.6,1533.2 597.6,1535.5 598.5,1538.1 599.5,1539.7 600.1,1542.0 600.8,1544.1 601.4,1547.0 602.0,1550.4 602.6,1552.4 603.3,1555.6 603.9,1557.1 606.1,1559.7 608.2,1561.9 610.4,1563.5 612.6,1565.8 614.8,1567.5 617.0,1569.1 619.1,1570.8 621.3,1573.0 623.9,1573.6 626.5,1572.0 629.1,1572.9 631.7,1573.5 634.3,1574.5 636.8,1575.4 639.4,1577.4 642.0,1578.0 644.5,1580.3 647.4,1580.5 650.3,1579.3 653.2,1579.9 656.1,1580.3 658.0,1577.0 660.0,1574.9 661.9,1573.0 663.4,1575.5 664.8,1578.2 666.3,1581.7 669.2,1582.5 672.1,1583.2 675.0,1583.7 677.9,1584.6 680.8,1585.1 683.7,1586.0 686.6,1586.1 688.8,1583.6 690.9,1580.3 691.1,1578.5 691.4,1576.0 691.6,1572.9 691.9,1570.2 692.1,1567.4 692.4,1564.7 692.6,1561.5 692.9,1559.6 693.1,1556.8 693.4,1554.7 693.6,1551.7 693.9,1550.3 694.1,1546.8 694.4,1543.8 694.6,1541.1 694.8,1543.9 695.1,1545.9 695.3,1548.2 695.6,1551.0 695.8,1553.7 696.0,1556.8 696.3,1559.0 696.5,1561.7 696.8,1564.7 697.0,1567.9 697.2,1570.2 697.5,1573.0 697.7,1575.7 698.0,1577.9 698.2,1580.3 700.6,1580.5 703.1,1581.5 705.5,1583.2 707.9,1581.0 710.3,1578.8 712.7,1577.4 713.8,1574.2 714.9,1572.9 716.0,1570.0 717.1,1567.2 719.0,1569.5 721.0,1570.9 722.9,1573.0 725.0,1570.8 727.2,1568.7 727.6,1565.5 728.0,1563.1 728.4,1560.9 728.8,1557.4 729.2,1555.1 729.6,1552.7 730.0,1550.4 730.4,1547.1 730.8,1544.4 731.2,1541.8 731.6,1539.7 731.8,1535.8 732.0,1534.5 732.2,1533.2 732.4,1529.7 732.6,1527.7 732.8,1524.7 733.0,1522.7 733.1,1519.0 733.3,1516.8 733.5,1514.6 733.7,1510.8 733.9,1508.3 734.1,1504.5 734.3,1502.1 734.5,1500.5 736.1,1499.0 737.4,1501.9 737.6,1504.3 737.7,1507.4 737.9,1509.2 738.0,1511.9 738.2,1516.3 738.4,1519.1 738.5,1520.4 738.7,1522.0 738.9,1525.3 739.0,1527.7 739.2,1530.8 739.4,1533.7 739.5,1535.5 739.7,1538.4 739.8,1540.9 740.0,1543.9 740.4,1545.8 740.8,1548.7 741.2,1552.5 741.6,1555.0 742.0,1556.7 742.5,1559.6 742.9,1561.5 743.3,1564.1 743.7,1567.3 744.1,1570.2 744.5,1573.3 744.9,1575.2 746.9,1577.6 748.8,1579.1 750.8,1581.0 752.7,1582.2 754.7,1583.0 757.6,1582.0 760.5,1582.4 763.5,1581.6 766.4,1581.0 767.2,1577.9 768.1,1575.5 768.9,1572.7 769.8,1570.2 770.6,1568.0 771.5,1566.5 772.3,1563.4 772.9,1561.2 773.5,1558.0 774.0,1556.2 774.6,1553.9 775.2,1551.0 775.8,1548.8 776.4,1546.6 776.9,1542.9 777.5,1541.1 778.1,1538.0 778.7,1540.6 779.3,1543.1 779.9,1545.2 780.5,1547.5 781.0,1549.9 781.6,1553.1 782.2,1556.4 782.8,1558.4 783.4,1560.6 784.0,1563.4 785.1,1565.9 786.2,1568.0 787.3,1571.1 788.5,1573.2 789.6,1576.6 790.7,1578.2 791.8,1581.0 792.7,1578.3 793.5,1576.4 794.4,1573.4 795.3,1571.2 796.1,1568.4 797.0,1566.0 797.9,1564.4 798.7,1562.0 799.6,1559.5 799.8,1556.2 800.0,1553.8 800.2,1551.5 800.4,1549.8 800.6,1547.2 800.8,1545.2 801.0,1541.8 801.2,1538.7 801.4,1537.3 801.6,1535.5 801.8,1532.4 802.0,1529.9 802.2,1526.9 802.4,1524.3 802.5,1521.8 802.7,1519.8 802.9,1516.3 803.1,1513.4 803.3,1511.5 803.5,1508.7 803.7,1505.9 803.9,1504.1 804.1,1500.3 804.3,1497.3 804.5,1495.1 804.7,1493.0 804.9,1490.6 805.1,1486.2 805.3,1483.7 805.5,1482.4 805.7,1484.4 805.8,1487.0 806.0,1489.8 806.1,1492.6 806.3,1495.4 806.5,1498.3 806.6,1500.9 806.8,1503.9 807.0,1507.1 807.1,1509.2 807.3,1509.8 807.5,1513.7 807.6,1516.2 807.8,1518.6 807.9,1520.1 808.1,1524.4 808.3,1526.9 808.4,1529.8 808.6,1531.7 808.8,1533.8 808.9,1536.0 809.1,1538.8 809.2,1541.1 809.4,1543.9 809.8,1545.5 810.2,1547.9 810.6,1550.9 810.9,1554.5 811.3,1557.0 811.7,1559.5 812.1,1562.4 812.5,1565.8 812.9,1568.2 813.3,1570.3 813.7,1572.8 814.0,1575.4 814.4,1577.9 814.8,1578.9 815.2,1583.0 817.6,1584.4 819.9,1585.6 822.3,1586.3 824.6,1587.4 827.0,1588.8 829.8,1588.8 832.6,1588.9 835.4,1589.8 838.1,1590.8 840.9,1591.0 843.7,1591.7 846.5,1591.8 849.3,1591.2 852.1,1591.9 854.9,1592.1 857.6,1591.9 860.4,1592.0 863.2,1591.1 866.0,1590.8 868.7,1590.5 871.5,1589.5 874.2,1587.9 877.0,1586.2 879.7,1584.9 882.3,1587.4 884.9,1588.1 887.5,1590.8 888.8,1587.9 890.1,1584.6 891.4,1583.1 892.7,1580.4 894.0,1579.5 895.3,1577.1 898.6,1577.4 901.8,1576.6 905.1,1575.2 905.3,1572.7 905.5,1569.3 905.7,1567.0 905.9,1565.0 906.1,1563.0 906.3,1560.6 906.5,1558.9 906.8,1555.7 907.0,1553.1 907.2,1551.0 907.4,1547.5 907.6,1545.0 907.8,1542.5 908.0,1539.0 908.2,1537.5 908.4,1535.3 908.6,1533.2 908.8,1530.8 909.0,1527.9 909.2,1524.3 909.5,1521.8 909.7,1519.7 909.9,1517.8 910.1,1515.0 910.3,1512.5 910.5,1510.0 910.7,1506.5 910.9,1504.8 911.0,1502.3 911.1,1500.1 911.2,1498.2 911.3,1494.5 911.4,1491.9 911.5,1489.1 911.6,1486.9 911.7,1485.1 911.8,1482.2 911.9,1478.9 912.0,1477.1 912.1,1473.4 912.2,1472.5 912.3,1470.2 912.4,1466.5 912.5,1464.1 912.6,1460.8 912.7,1458.5 912.7,1455.7 912.8,1453.5 912.9,1451.1 913.0,1448.4 913.1,1446.1 913.2,1444.0 913.3,1442.1 913.4,1439.1 913.5,1436.6 913.6,1433.2 913.7,1430.9 913.8,1428.2 913.9,1426.4 914.0,1423.6 914.1,1421.9 914.2,1418.4 914.3,1417.4 914.4,1413.8 914.5,1411.1 914.6,1413.2 914.6,1414.9 914.7,1418.3 914.8,1421.7 914.8,1424.2 914.9,1426.0 915.0,1428.6 915.1,1432.1 915.1,1434.0 915.2,1436.5 915.3,1438.9 915.3,1442.0 915.4,1444.7 915.5,1446.9 915.5,1449.3 915.6,1452.8 915.7,1454.8 915.8,1457.5 915.8,1460.0 915.9,1461.4 916.0,1464.3 916.0,1466.7 916.1,1469.3 916.2,1472.2 916.2,1474.3 916.3,1477.0 916.4,1479.4 916.5,1482.0 916.5,1485.1 916.6,1487.8 916.7,1490.5 916.7,1492.7 916.8,1495.1 917.0,1497.8 917.2,1500.8 917.5,1503.9 917.7,1506.2 917.9,1509.0 918.1,1512.0 918.3,1513.5 918.5,1515.8 918.8,1518.2 919.0,1521.0 919.2,1523.6 919.4,1527.0 919.6,1528.7 919.9,1530.2 920.1,1531.9 920.3,1534.9 920.5,1537.0 920.7,1539.7 921.0,1543.0 921.2,1546.8 921.4,1548.7 921.6,1552.2 921.8,1554.1 922.0,1556.1 922.3,1558.1 922.5,1561.2 922.7,1563.4 923.4,1566.9 924.2,1569.5 924.9,1571.0 925.6,1573.5 926.3,1576.6 927.0,1579.6 927.8,1582.0 928.5,1584.9 930.8,1586.4 933.2,1586.7 935.5,1588.3 937.9,1589.7 940.2,1590.8 942.6,1589.5 944.9,1588.7 947.3,1588.6 949.6,1587.2 952.0,1584.9 954.0,1586.7 956.0,1588.9 958.0,1590.8 960.0,1592.7 962.5,1591.7 965.0,1591.1 967.5,1590.7 970.2,1590.6 972.9,1590.8 975.7,1590.5 978.4,1589.8 981.1,1589.5 983.8,1589.5 986.6,1589.0 989.3,1589.1 992.0,1588.9 994.6,1590.4 997.2,1590.8 999.9,1592.6 1002.5,1594.2 1005.1,1594.8 1007.7,1594.8 1010.4,1593.6 1013.0,1594.0 1015.6,1593.4 1018.2,1592.6 1020.8,1592.2 1023.5,1591.5 1026.1,1591.8 1028.7,1592.4 1031.2,1592.6 1033.7,1593.8 1036.2,1594.3 1038.7,1595.3 1041.2,1595.5 1043.7,1596.5 1046.2,1595.9 1048.6,1595.4 1051.1,1593.3 1053.5,1593.2 1056.0,1591.5 1058.4,1588.9 1059.5,1587.4 1060.5,1584.5 1061.6,1581.6 1062.6,1578.0 1063.7,1574.9 1064.9,1572.4 1066.0,1569.6 1067.2,1567.9 1067.9,1569.7 1068.7,1573.2 1069.4,1574.9 1070.2,1577.6 1070.9,1580.0 1071.7,1582.7 1072.4,1585.4 1073.8,1587.9 1075.2,1589.8 1076.6,1590.8 1078.0,1592.5 1079.4,1595.9 1082.2,1596.2 1085.0,1596.8 1087.8,1597.2 1090.6,1598.3 1093.4,1597.7 1096.2,1597.9 1099.0,1595.4 1101.8,1594.2 1104.6,1593.5 1107.4,1592.4 1108.3,1589.1 1109.2,1586.0 1110.1,1584.7 1110.9,1581.6 1111.8,1580.4 1112.7,1576.7 1114.1,1575.2 1115.6,1572.4 1117.0,1568.8 1117.7,1570.2 1118.4,1573.2 1119.1,1576.3 1119.8,1578.8 1120.4,1581.4 1121.1,1583.1 1121.8,1585.2 1122.5,1587.8 1123.2,1590.7 1125.5,1593.1 1127.9,1594.3 1130.2,1595.9 1132.8,1595.9 1135.5,1594.8 1138.1,1594.5 1140.7,1594.4 1143.3,1594.8 1146.0,1595.1 1148.6,1594.2 1151.2,1594.2 1153.4,1591.5 1155.6,1589.0 1157.7,1587.4 1159.9,1585.4 1160.6,1581.9 1161.3,1580.3 1162.1,1577.4 1162.8,1575.0 1163.5,1571.9 1164.2,1568.8 1164.9,1566.4 1165.6,1563.6 1166.4,1562.2 1167.1,1559.0 1167.8,1556.5 1168.4,1558.9 1168.9,1562.2 1169.5,1564.9 1170.0,1567.8 1170.6,1570.0 1171.1,1571.9 1171.7,1574.2 1172.2,1577.0 1172.8,1579.6 1173.3,1582.5 1173.9,1585.4 1175.2,1588.1 1176.5,1591.2 1177.8,1594.9 1179.1,1595.9 1182.2,1595.3 1185.2,1595.1 1188.3,1594.7 1191.4,1594.2 1192.8,1591.7 1194.2,1589.1 1195.6,1588.1 1197.0,1587.1 1198.4,1583.7 1199.0,1581.4 1199.7,1578.8 1200.3,1575.8 1200.9,1572.8 1201.6,1569.8 1202.2,1569.0 1202.9,1566.2 1203.5,1563.8 1204.1,1560.1 1204.8,1557.3 1205.4,1554.8 1205.8,1557.2 1206.3,1559.9 1206.7,1562.1 1207.1,1565.1 1207.6,1567.8 1208.0,1570.8 1208.4,1573.2 1208.9,1576.2 1209.3,1577.3 1209.7,1580.3 1210.2,1583.8 1210.6,1585.4 1212.4,1589.0 1214.1,1591.0 1215.9,1592.4 1218.0,1595.1 1220.1,1596.4 1222.2,1595.3 1224.3,1597.6 1226.4,1599.4 1227.9,1596.6 1229.4,1595.2 1230.9,1592.6 1232.4,1592.0 1233.9,1589.9 1235.4,1586.9 1236.9,1585.4 1238.2,1582.4 1239.5,1579.0 1240.8,1577.8 1242.1,1574.9 1243.5,1578.3 1244.9,1579.7 1246.3,1582.2 1247.7,1583.4 1249.1,1585.4 1252.6,1587.0 1256.1,1587.2 1257.9,1589.5 1259.6,1592.1 1261.4,1593.2 1263.1,1595.7 1264.9,1597.7 1268.0,1598.2 1271.0,1598.5 1274.0,1599.0 1277.1,1598.5 1279.9,1599.2 1282.7,1599.1 1285.5,1599.2 1288.3,1598.9 1291.1,1599.4 1293.3,1597.1 1295.4,1596.1 1297.6,1594.5 1299.8,1593.3 1302.3,1594.0 1304.8,1595.2 1307.2,1595.9 1309.7,1598.9 1312.2,1598.4 1314.7,1599.4 1317.1,1597.1 1319.6,1594.3 1322.0,1592.8 1324.5,1592.3 1326.1,1589.8 1327.7,1588.7 1329.2,1585.7 1330.8,1583.4 1332.4,1580.0 1333.7,1582.7 1335.0,1584.3 1336.3,1587.4 1337.6,1590.1 1338.9,1592.4 1340.2,1594.9 1342.7,1596.0 1345.1,1595.6 1347.6,1596.8 1350.0,1598.2 1352.5,1598.4 1355.0,1598.1 1357.5,1596.6 1360.0,1598.3 1362.5,1596.8 1365.0,1596.0 1367.5,1596.5 1370.0,1596.7 1372.5,1596.6 1375.0,1596.7 1377.5,1596.3 1380.0,1595.3 1382.5,1594.3 1385.0,1594.0 1387.5,1593.2 1389.2,1590.7 1391.0,1588.8 1392.7,1588.3 1394.5,1585.8 1396.2,1582.7 1397.1,1579.9 1398.0,1577.2 1398.8,1574.7 1399.7,1573.0 1400.6,1569.3 1401.5,1566.8 1402.3,1564.3 1403.2,1561.7 1404.1,1563.8 1405.0,1566.8 1405.8,1568.8 1406.7,1572.3 1407.6,1574.9 1408.5,1577.1 1409.3,1580.2 1410.2,1582.7 1411.7,1585.3 1413.1,1587.4 1414.6,1590.1 1416.0,1591.9 1417.5,1594.6 1418.9,1596.7 1421.5,1598.2 1424.2,1599.1 1426.8,1601.1 1429.4,1601.0 1432.0,1599.6 1434.7,1598.2 1437.3,1596.9 1439.9,1594.9 1442.4,1595.0 1444.9,1594.6 1447.4,1594.7 1449.9,1595.2 1452.4,1594.9 1454.9,1593.8 1457.4,1594.9 1459.5,1592.2 1461.5,1590.5 1463.6,1589.5 1465.6,1587.1 1467.7,1584.9 1469.7,1582.7 1471.0,1580.0 1472.3,1577.7 1473.6,1575.7 1474.9,1572.9 1476.2,1570.3 1477.5,1568.7 1478.5,1570.5 1479.5,1571.7 1480.5,1574.6 1481.5,1576.6 1482.4,1580.3 1483.4,1583.9 1484.4,1585.7 1485.4,1587.9 1486.8,1590.5 1488.2,1592.2 1489.6,1595.0 1491.0,1597.5 1492.4,1600.2 1495.2,1599.9 1498.0,1598.6 1500.8,1597.4 1503.6,1597.0 1506.4,1596.7 1507.6,1593.2 1508.8,1591.5 1510.1,1589.7 1511.3,1586.4 1512.5,1584.4 1514.0,1581.5 1515.4,1579.5 1516.9,1577.4 1517.9,1580.4 1519.0,1582.7 1520.0,1585.8 1521.1,1587.4 1522.1,1591.4 1524.3,1592.2 1526.5,1594.1 1528.7,1595.0 1530.9,1596.7 1533.4,1597.8 1535.9,1597.6 1538.5,1598.0 1541.0,1597.6 1543.5,1597.7 1546.0,1598.1 1548.6,1597.7 1551.1,1597.7 1553.6,1598.4 1556.1,1597.5 1558.7,1598.1 1561.2,1599.0 1563.7,1597.7 1566.3,1597.3 1568.8,1596.7 1571.3,1596.9 1573.9,1596.4 1576.4,1594.9 1577.9,1594.1 1579.5,1591.6 1581.0,1588.8 1582.5,1587.0 1584.0,1585.0 1585.5,1583.1 1587.1,1580.1 1588.6,1578.3 1590.8,1579.6 1593.0,1581.1 1595.2,1583.7 1597.4,1584.4 1599.5,1586.9 1601.6,1588.0 1603.7,1589.5 1605.8,1591.2 1607.9,1591.4 1610.2,1593.7 1612.6,1595.5 1614.9,1596.7 1617.5,1595.3 1620.1,1593.8 1622.7,1591.9 1625.3,1591.4 1627.6,1592.9 1629.8,1594.7 1632.1,1595.7 1634.3,1597.0 1636.6,1598.1 1638.8,1599.3 1641.1,1600.2 1643.6,1598.8 1646.1,1598.1 1648.6,1597.4 1651.2,1597.0 1653.7,1595.4 1656.2,1594.7 1658.7,1594.9 1660.8,1592.1 1662.9,1589.9 1665.0,1589.3 1667.1,1587.7 1669.2,1586.2 1671.2,1587.9 1673.2,1590.7 1675.2,1592.9 1677.2,1595.8 1679.2,1596.8 1681.2,1598.8 1683.2,1600.2 1685.0,1598.1 1686.7,1596.2 1688.5,1593.8 1690.2,1592.5 1692.0,1590.5 1694.6,1591.1 1697.2,1591.7 1699.9,1592.6 1702.5,1593.2 1705.1,1591.8 1707.8,1592.1 1710.4,1592.0 1713.0,1590.5 1715.0,1593.2 1717.0,1594.2 1719.0,1596.8 1721.0,1597.8 1723.0,1599.8 1725.0,1601.9 1727.0,1603.7 1729.7,1603.5 1732.5,1604.8 1735.2,1604.6 1738.0,1603.4 1740.7,1602.6 1743.5,1603.0 1746.2,1601.9 1748.6,1600.2 1751.1,1599.2 1753.5,1597.9 1756.0,1595.9 1758.4,1594.9 1760.7,1591.7 1763.1,1589.5 1765.4,1587.9 1767.2,1589.9 1768.9,1592.3 1770.7,1594.3 1772.4,1596.3 1774.2,1599.0 1775.9,1600.3 1777.7,1601.9 1779.8,1600.2 1781.9,1598.1 1784.0,1597.6 1786.1,1596.2 1788.2,1594.9 1790.2,1593.4 1792.3,1591.5 1794.3,1588.8 1796.2,1590.8 1798.1,1593.4 1800.1,1594.7 1802.0,1596.5 1803.9,1598.4 1806.5,1599.9 1809.2,1600.2 1811.8,1601.1 1814.4,1601.3 1817.0,1601.7 1819.7,1600.4 1822.3,1601.9 1824.9,1603.7 1827.4,1603.5 1829.9,1602.6 1832.4,1602.4 1834.9,1602.1 1837.4,1601.4 1839.9,1601.3 1842.4,1602.8 1845.0,1601.4 1847.6,1601.1 1850.3,1602.3 1852.9,1601.7 1855.5,1602.1 1858.1,1602.4 1860.7,1601.8 1863.4,1600.6 1866.0,1600.5 1868.6,1600.2 1871.2,1599.9 1873.8,1599.5 1876.5,1597.5 1879.1,1597.3 1881.7,1596.8 1884.3,1595.9 1887.0,1595.5 1889.6,1594.0 1891.9,1595.9 1894.3,1597.5 1896.6,1599.1 1898.9,1600.4 1901.3,1601.3 1903.6,1601.9 1906.1,1600.4 1908.6,1598.7 1911.1,1598.6 1913.6,1597.6 1916.1,1596.3 1918.6,1595.2 1921.1,1594.0 1923.4,1595.3 1925.6,1596.3 1927.9,1597.4 1930.1,1598.7 1932.4,1600.0 1934.6,1600.5 1936.9,1601.9 1939.7,1601.2 1942.5,1600.3 1945.3,1599.0 1948.1,1598.1 1950.9,1596.7 1953.3,1594.6 1955.8,1593.8 1958.2,1591.6 1960.7,1590.1 1963.1,1588.8 1965.9,1588.4 1968.7,1588.8 1971.5,1589.9 1974.3,1589.5 1977.1,1590.5 1979.9,1589.3 1982.7,1591.5 1985.5,1594.4 1988.3,1593.7 1991.1,1594.9 1993.6,1595.6 1996.1,1596.7 1998.6,1597.5 2001.2,1599.1 2003.7,1599.4 2006.2,1600.7 2008.7,1601.3 2011.2,1602.2 2013.8,1602.3 2016.5,1601.9 2019.2,1601.8 2021.8,1602.7 2024.4,1603.3 2027.1,1603.3 2029.9,1605.0 2032.6,1605.6 2035.4,1605.4 2038.1,1605.9 2040.9,1606.5 2043.4,1605.9 2046.0,1606.0 2048.5,1604.4 2051.1,1603.9 2053.6,1603.3 2056.2,1603.5 2058.9,1603.4 2061.6,1604.7 2064.2,1604.5 2066.8,1604.1 2069.5,1605.6 2072.2,1606.1 2074.8,1606.5 2077.5,1607.9 2080.1,1607.7 2082.8,1607.5 2085.4,1607.5 2088.1,1607.0 2090.7,1606.5 2093.3,1605.7 2096.0,1604.7 2098.7,1605.3 2101.3,1604.9 2103.9,1604.2 2106.6,1603.3 2109.3,1602.7 2111.9,1601.6 2114.6,1600.8 2117.3,1600.1 2120.0,1600.5 2122.6,1600.2 2125.2,1601.1 2127.9,1601.5 2130.5,1601.8 2133.2,1601.2 2135.5,1599.9 2137.7,1598.0 2140.0,1595.4 2142.3,1594.9 2144.6,1592.6 2146.8,1590.7 2149.1,1590.6 2151.2,1591.4 2153.3,1592.8 2155.5,1595.7 2157.6,1598.0 2160.4,1600.2 2163.2,1601.5 2166.0,1603.3"/>
</g>
<g stroke-linecap="butt">
<line x1="188.2" y1="70.5" x2="2171.1" y2="70.5" stroke="#000" stroke-width="5"/>
<line x1="2168.6" y1="68.0" x2="2168.6" y2="1667.5" stroke="#000" stroke-width="5"/>
<line x1="188.2" y1="1665.0" x2="2171.1" y2="1665.0" stroke="#000" stroke-width="5"/>
<line x1="190.7" y1="68.0" x2="190.7" y2="1665.0" stroke="#444" stroke-width="5"/>
<line x1="190.7" y1="1665.0" x2="190.7" y2="1680.0" stroke="#000" stroke-width="5.5"/>
<line x1="307.0" y1="1665.0" x2="307.0" y2="1695.5" stroke="#000" stroke-width="5.5"/>
<line x1="423.4" y1="1665.0" x2="423.4" y2="1680.0" stroke="#000" stroke-width="5.5"/>
<line x1="539.7" y1="1665.0" x2="539.7" y2="1695.5" stroke="#000" stroke-width="5.5"/>
<line x1="656.1" y1="1665.0" x2="656.1" y2="1680.0" stroke="#000" stroke-width="5.5"/>
<line x1="772.4" y1="1665.0" x2="772.4" y2="1695.5" stroke="#000" stroke-width="5.5"/>
<line x1="888.8" y1="1665.0" x2="888.8" y2="1680.0" stroke="#000" stroke-width="5.5"/>
<line x1="1005.1" y1="1665.0" x2="1005.1" y2="1695.5" stroke="#000" stroke-width="5.5"/>
<line x1="1121.5" y1="1665.0" x2="1121.5" y2="1680.0" stroke="#000" stroke-width="5.5"/>
<line x1="1237.8" y1="1665.0" x2="1237.8" y2="1695.5" stroke="#000" stroke-width="5.5"/>
<line x1="1354.2" y1="1665.0" x2="1354.2" y2="1680.0" stroke="#000" stroke-width="5.5"/>
<line x1="1470.5" y1="1665.0" x2="1470.5" y2="1695.5" stroke="#000" stroke-width="5.5"/>
<line x1="1586.9" y1="1665.0" x2="1586.9" y2="1680.0" stroke="#000" stroke-width="5.5"/>
<line x1="1703.2" y1="1665.0" x2="1703.2" y2="1695.5" stroke="#000" stroke-width="5.5"/>
<line x1="1819.6" y1="1665.0" x2="1819.6" y2="1680.0" stroke="#000" stroke-width="5.5"/>
<line x1="1935.9" y1="1665.0" x2="1935.9" y2="1695.5" stroke="#000" stroke-width="5.5"/>
<line x1="2052.3" y1="1665.0" x2="2052.3" y2="1680.0" stroke="#000" stroke-width="5.5"/>
<line x1="2168.6" y1="1665.0" x2="2168.6" y2="1695.5" stroke="#000" stroke-width="5.5"/>
</g>
<g font-size="73" text-anchor="middle">
<text transform="translate(307.5,1771.5) scale(0.925,1)">10</text>
<text transform="translate(540.2,1771.5) scale(0.925,1)">20</text>
<text transform="translate(772.9,1771.5) scale(0.925,1)">30</text>
<text transform="translate(1005.6,1771.5) scale(0.925,1)">40</text>
<text transform="translate(1238.3,1771.5) scale(0.925,1)">50</text>
<text transform="translate(1471.0,1771.5) scale(0.925,1)">60</text>
<text transform="translate(1703.7,1771.5) scale(0.925,1)">70</text>
<text transform="translate(1936.4,1771.5) scale(0.925,1)">80</text>
<text transform="translate(2169.1,1771.5) scale(0.925,1)">90</text>
</g>
<text x="1179" y="1898.6" font-size="84" text-anchor="middle">2 Theta (degree)</text>
<text transform="translate(105,886.5) rotate(-90)" font-size="83" text-anchor="middle">Intensity (a.u)</text>
<text transform="translate(2024,506.5) scale(1.035,1)" font-size="58.5"><tspan>SiO</tspan><tspan font-size="40" dy="16.5">2</tspan></text>
<text transform="translate(1953,1032) scale(1.035,1)" font-size="58.5"><tspan>SiO</tspan><tspan font-size="40" dy="16.5">2</tspan><tspan dy="-16.5">/Zr</tspan></text>
<text transform="translate(1735.5,1285.3) scale(1.035,1)" font-size="58.5"><tspan>SiO</tspan><tspan font-size="40" dy="16.5">2</tspan><tspan dy="-16.5">/Zr-CEDTA</tspan></text>
<text transform="translate(1401.5,1415.4) scale(1.035,1)" font-size="58.5"><tspan>SiO</tspan><tspan font-size="40" dy="16.5">2</tspan><tspan dy="-16.5">-TEDTA</tspan></text>
<text transform="translate(1400.5,1549.5) scale(1.035,1)" font-size="58.5"><tspan>SiO</tspan><tspan font-size="40" dy="16.5">2</tspan><tspan dy="-16.5">/Zr-TEDTA</tspan></text>
</svg></div>
</body></html>
